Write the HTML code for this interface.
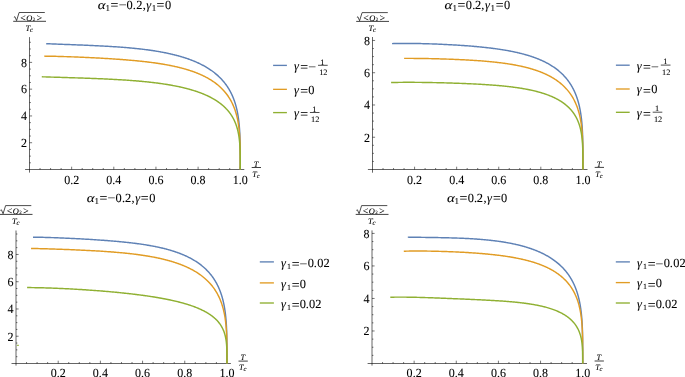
<!DOCTYPE html>
<html><head><meta charset="utf-8"><style>
html,body{margin:0;padding:0;background:#fff;}
body{width:685px;height:377px;overflow:hidden;}
svg{display:block;will-change:transform;}
text{font-family:"Liberation Serif",serif;text-rendering:geometricPrecision;fill:#000;stroke:#000;stroke-width:0.08px;}
</style></head><body>
<svg width="685" height="377" viewBox="0 0 685 377">
<rect width="685" height="377" fill="#fff"/>
<text transform="translate(102,8.6) scale(1.2,1)" x="-3.54" y="0" font-size="12.4" font-style="italic">α</text>
<text x="105.62" y="10.5" font-size="9" stroke-width="0.22">1</text>
<text transform="translate(114.4,9) scale(1.12,1)" x="-3.5" y="0" font-size="12.4">=</text>
<text transform="translate(122.6,9) scale(1.12,1)" x="-3.5" y="0" font-size="12.4">−</text>
<text x="126.5" y="8.6" font-size="12.4">0</text>
<text x="132.75" y="8.6" font-size="12.4">.</text>
<text x="136.32" y="8.6" font-size="12.4">2</text>
<text x="142.7" y="8.6" font-size="12.4">,</text>
<text x="146.31" y="8.6" font-size="12.4" font-style="italic">γ</text>
<text x="151.67" y="10.5" font-size="9" stroke-width="0.22">1</text>
<text transform="translate(160.5,9) scale(1.12,1)" x="-3.5" y="0" font-size="12.4">=</text>
<text x="164.95" y="8.6" font-size="12.4">0</text>
<path d="M13.2,21.3 H46" stroke="#000" stroke-width="0.75"/>
<path d="M13.9,17.3 L14.9,16.7 L16.6,20.6 L19.1,12.5 H44.8" stroke="#000" stroke-width="0.7" fill="none" stroke-linejoin="bevel"/>
<text x="20.14" y="21.3" font-size="9.6" stroke-width="0.22">&lt;</text>
<text x="26.25" y="20.6" font-size="8.4" font-style="italic" stroke-width="0.22">O</text>
<text x="32.63" y="20.9" font-size="5" stroke-width="0.22">2</text>
<text x="36.73" y="21.3" font-size="9.6" stroke-width="0.22">&gt;</text>
<text x="25.61" y="30.7" font-size="8.5" font-style="italic" stroke-width="0.22">T</text>
<text x="29.92" y="31.9" font-size="6.8" font-style="italic" stroke-width="0.22">c</text>
<path d="M25.1,169.5 H244.3" stroke="#000" stroke-opacity="0.6" stroke-width="1" fill="none"/>
<path d="M29.5,37.1 V172.6" stroke="#000" stroke-opacity="0.6" stroke-width="1" fill="none"/>
<path d="M40.04,169.5 v-1.5 M50.58,169.5 v-1.5 M61.11,169.5 v-1.5 M71.65,169.5 v-2.8 M82.19,169.5 v-1.5 M92.72,169.5 v-1.5 M103.26,169.5 v-1.5 M113.8,169.5 v-2.8 M124.34,169.5 v-1.5 M134.88,169.5 v-1.5 M145.41,169.5 v-1.5 M155.95,169.5 v-2.8 M166.49,169.5 v-1.5 M177.03,169.5 v-1.5 M187.56,169.5 v-1.5 M198.1,169.5 v-2.8 M208.64,169.5 v-1.5 M219.18,169.5 v-1.5 M229.71,169.5 v-1.5 M240.25,169.5 v-2.8 M29.5,162.81 h1.4 M29.5,156.11 h1.4 M29.5,149.41 h1.4 M29.5,142.72 h2.6 M29.5,136.03 h1.4 M29.5,129.33 h1.4 M29.5,122.63 h1.4 M29.5,115.94 h2.6 M29.5,109.25 h1.4 M29.5,102.55 h1.4 M29.5,95.85 h1.4 M29.5,89.16 h2.6 M29.5,82.47 h1.4 M29.5,75.77 h1.4 M29.5,69.07 h1.4 M29.5,62.38 h2.6 M29.5,55.69 h1.4 M29.5,48.99 h1.4 M29.5,42.29 h1.4" stroke="#000" stroke-opacity="0.6" stroke-width="0.9" fill="none"/>
<text transform="translate(27.1,147.02) scale(0.97,1)" font-size="12.4" text-anchor="end">2</text>
<text transform="translate(27.1,120.24) scale(0.97,1)" font-size="12.4" text-anchor="end">4</text>
<text transform="translate(27.1,93.46) scale(0.97,1)" font-size="12.4" text-anchor="end">6</text>
<text transform="translate(27.1,66.68) scale(0.97,1)" font-size="12.4" text-anchor="end">8</text>
<text transform="translate(71.65,183.9) scale(0.97,1)" font-size="12.4" text-anchor="middle">0.2</text>
<text transform="translate(113.8,183.9) scale(0.97,1)" font-size="12.4" text-anchor="middle">0.4</text>
<text transform="translate(155.95,183.9) scale(0.97,1)" font-size="12.4" text-anchor="middle">0.6</text>
<text transform="translate(198.1,183.9) scale(0.97,1)" font-size="12.4" text-anchor="middle">0.8</text>
<text transform="translate(240.25,183.9) scale(0.97,1)" font-size="12.4" text-anchor="middle">1.0</text>
<path d="M251.7,167.5 h9.3" stroke="#000" stroke-width="0.75"/>
<text x="253.71" y="166.6" font-size="8.2" font-style="italic" stroke-width="0.22">T</text>
<text x="252.31" y="176.6" font-size="8.2" font-style="italic" stroke-width="0.22">T</text>
<text x="256.72" y="177.8" font-size="6.6" font-style="italic" stroke-width="0.22">c</text>
<path d="M46.2,43.71 L47.81,43.77 L49.42,43.83 L51.01,43.89 L52.59,43.95 L54.16,44.01 L55.73,44.07 L57.28,44.13 L58.82,44.18 L60.35,44.24 L61.87,44.3 L63.38,44.36 L64.87,44.41 L66.36,44.47 L67.84,44.52 L69.31,44.58 L70.77,44.63 L72.22,44.69 L73.66,44.75 L75.08,44.8 L76.5,44.86 L77.91,44.91 L79.31,44.97 L80.7,45.02 L82.08,45.08 L83.45,45.14 L84.81,45.19 L86.17,45.25 L87.51,45.31 L88.84,45.36 L90.16,45.42 L91.48,45.48 L92.78,45.54 L94.08,45.6 L95.37,45.66 L96.64,45.72 L97.91,45.79 L99.17,45.85 L100.42,45.91 L101.66,45.98 L102.9,46.04 L104.12,46.11 L105.34,46.18 L106.54,46.24 L107.74,46.31 L108.93,46.38 L110.11,46.45 L111.28,46.53 L112.45,46.6 L113.6,46.67 L114.75,46.75 L115.89,46.82 L117.02,46.9 L118.14,46.98 L119.26,47.06 L120.36,47.14 L121.46,47.22 L122.55,47.31 L123.63,47.39 L124.71,47.48 L125.77,47.57 L126.83,47.65 L127.88,47.74 L128.92,47.84 L129.96,47.93 L130.98,48.02 L132,48.12 L133.01,48.22 L134.02,48.31 L135.02,48.41 L136,48.51 L136.99,48.62 L137.96,48.72 L138.93,48.83 L139.89,48.93 L140.84,49.04 L141.78,49.15 L142.72,49.26 L143.65,49.38 L144.58,49.49 L145.49,49.61 L146.4,49.72 L147.3,49.84 L148.2,49.96 L149.09,50.08 L149.97,50.21 L150.84,50.33 L151.71,50.46 L152.57,50.58 L153.43,50.71 L154.28,50.84 L155.12,50.98 L155.95,51.11 L156.78,51.25 L157.6,51.38 L158.42,51.52 L159.22,51.66 L160.03,51.8 L160.82,51.94 L161.61,52.09 L162.4,52.23 L163.17,52.38 L163.94,52.53 L164.71,52.68 L165.47,52.83 L166.22,52.98 L166.97,53.14 L167.71,53.29 L168.44,53.45 L169.17,53.61 L169.89,53.77 L170.61,53.93 L171.32,54.09 L172.02,54.26 L172.72,54.43 L173.41,54.59 L174.1,54.76 L174.78,54.93 L175.46,55.1 L176.13,55.28 L176.8,55.45 L177.46,55.63 L178.11,55.8 L178.76,55.98 L179.4,56.16 L180.04,56.34 L180.67,56.52 L181.3,56.71 L181.92,56.89 L182.54,57.08 L183.15,57.27 L183.76,57.45 L184.36,57.64 L184.95,57.84 L185.54,58.03 L186.13,58.22 L186.71,58.42 L187.28,58.61 L187.86,58.81 L188.42,59.01 L188.98,59.21 L189.54,59.41 L190.09,59.61 L190.64,59.82 L191.18,60.02 L191.71,60.23 L192.25,60.43 L192.77,60.64 L193.3,60.85 L193.82,61.06 L194.33,61.27 L194.84,61.49 L195.34,61.7 L195.84,61.91 L196.34,62.13 L196.83,62.35 L197.32,62.56 L197.8,62.78 L198.28,63 L198.75,63.22 L199.22,63.45 L199.69,63.67 L200.15,63.89 L200.6,64.12 L201.06,64.34 L201.5,64.57 L201.95,64.8 L202.39,65.03 L202.82,65.26 L203.26,65.49 L203.68,65.72 L204.11,65.95 L204.53,66.19 L204.95,66.42 L205.36,66.66 L205.77,66.89 L206.17,67.13 L206.57,67.37 L206.97,67.61 L207.36,67.85 L207.75,68.09 L208.14,68.33 L208.52,68.57 L208.9,68.81 L209.65,69.3 L210.38,69.79 L211.1,70.28 L211.8,70.78 L212.49,71.28 L213.17,71.78 L213.83,72.29 L214.48,72.8 L215.12,73.31 L215.74,73.82 L216.36,74.33 L216.96,74.85 L217.55,75.37 L218.12,75.89 L218.69,76.42 L219.24,76.94 L219.78,77.47 L220.31,78 L220.83,78.54 L221.34,79.07 L221.84,79.61 L222.32,80.14 L222.8,80.68 L223.27,81.22 L223.72,81.77 L224.17,82.31 L224.61,82.86 L225.03,83.4 L225.45,83.95 L225.86,84.5 L226.26,85.05 L226.65,85.6 L227.03,86.16 L227.41,86.71 L227.77,87.26 L228.13,87.82 L228.48,88.38 L228.82,88.93 L229.15,89.49 L229.47,90.05 L229.79,90.61 L230.1,91.17 L230.4,91.73 L230.7,92.29 L230.98,92.86 L231.27,93.42 L231.54,93.98 L231.81,94.55 L232.07,95.11 L232.32,95.67 L232.57,96.24 L232.81,96.8 L233.05,97.37 L233.28,97.93 L233.5,98.5 L233.72,99.06 L233.93,99.63 L234.14,100.19 L234.34,100.76 L234.53,101.32 L234.72,101.89 L234.91,102.45 L235.09,103.02 L235.26,103.58 L235.43,104.15 L235.6,104.71 L235.76,105.28 L235.92,105.84 L236.07,106.4 L236.22,106.97 L236.36,107.53 L236.5,108.09 L236.64,108.65 L236.77,109.21 L236.9,109.77 L237.02,110.33 L237.14,110.89 L237.26,111.45 L237.37,112.01 L237.48,112.57 L237.59,113.12 L237.69,113.68 L237.79,114.23 L237.89,114.79 L237.98,115.34 L238.07,115.9 L238.16,116.45 L238.25,117 L238.33,117.55 L238.41,118.1 L238.48,118.65 L238.56,119.19 L238.63,119.74 L238.7,120.29 L238.77,120.83 L238.83,121.38 L238.89,121.92 L238.95,122.46 L239.01,123 L239.07,123.54 L239.12,124.08 L239.17,124.61 L239.22,125.15 L239.27,125.69 L239.32,126.22 L239.36,126.75 L239.4,127.28 L239.44,127.81 L239.48,128.34 L239.52,128.87 L239.56,129.39 L239.59,129.92 L239.63,130.44 L239.66,130.96 L239.69,131.48 L239.72,132 L239.75,132.52 L239.77,133.04 L239.8,133.55 L239.83,134.06 L239.85,134.58 L239.87,135.09 L239.89,135.59 L239.91,136.1 L239.93,136.61 L239.95,137.11 L239.97,137.61 L239.99,138.11 L240,138.61 L240.02,139.11 L240.03,139.61 L240.05,140.1 L240.06,140.59 L240.07,141.08 L240.08,141.57 L240.09,142.06 L240.1,142.54 L240.11,143.03 L240.12,143.51 L240.13,143.99 L240.14,144.46 L240.15,144.94 L240.16,145.41 L240.16,145.89 L240.17,146.35 L240.18,146.82 L240.18,147.29 L240.19,147.75 L240.19,148.21 L240.2,148.67 L240.2,149.13 L240.21,149.58 L240.21,150.04 L240.21,150.49 L240.22,150.94 L240.22,151.6 L240.22,152.27 L240.23,152.92 L240.23,153.57 L240.23,154.22 L240.24,154.86 L240.24,155.49 L240.24,156.12 L240.24,156.74 L240.24,157.36 L240.24,157.97 L240.25,158.57 L240.25,159.16 L240.25,159.75 L240.25,160.33 L240.25,160.9 L240.25,161.46 L240.25,162.02 L240.25,162.57 L240.25,163.1 L240.25,163.63 L240.25,164.15 L240.25,164.65 L240.25,165.15 L240.25,165.63 L240.25,166.1 L240.25,166.56 L240.25,167.15 L240.25,167.7 L240.25,168.22 L240.25,168.7 L240.25,169.22 L240.25,169.5" stroke="#5e81b5" stroke-width="1.45" fill="none"/>
<path d="M44.2,56.15 L45.83,56.17 L47.45,56.19 L49.06,56.22 L50.66,56.24 L52.25,56.27 L53.82,56.31 L55.39,56.34 L56.95,56.38 L58.49,56.42 L60.03,56.46 L61.55,56.51 L63.07,56.55 L64.57,56.6 L66.06,56.64 L67.55,56.69 L69.02,56.74 L70.49,56.79 L71.94,56.85 L73.38,56.9 L74.82,56.96 L76.24,57.01 L77.65,57.07 L79.06,57.13 L80.45,57.18 L81.84,57.24 L83.21,57.3 L84.58,57.36 L85.93,57.43 L87.28,57.49 L88.62,57.55 L89.94,57.61 L91.26,57.68 L92.57,57.74 L93.87,57.81 L95.16,57.88 L96.44,57.94 L97.72,58.01 L98.98,58.08 L100.24,58.15 L101.48,58.22 L102.72,58.29 L103.95,58.36 L105.17,58.43 L106.38,58.5 L107.58,58.57 L108.77,58.65 L109.95,58.72 L111.13,58.8 L112.3,58.87 L113.46,58.95 L114.61,59.03 L115.75,59.1 L116.88,59.18 L118.01,59.26 L119.13,59.34 L120.24,59.42 L121.34,59.5 L122.43,59.59 L123.51,59.67 L124.59,59.75 L125.66,59.84 L126.72,59.92 L127.77,60.01 L128.82,60.1 L129.86,60.19 L130.89,60.28 L131.91,60.37 L132.92,60.46 L133.93,60.55 L134.93,60.64 L135.92,60.74 L136.91,60.83 L137.88,60.93 L138.85,61.03 L139.81,61.12 L140.77,61.22 L141.72,61.32 L142.66,61.43 L143.59,61.53 L144.52,61.63 L145.43,61.74 L146.35,61.84 L147.25,61.95 L148.15,62.06 L149.04,62.17 L149.92,62.28 L150.8,62.39 L151.67,62.5 L152.53,62.61 L153.39,62.73 L154.24,62.84 L155.08,62.96 L155.92,63.08 L156.75,63.2 L157.57,63.32 L158.39,63.44 L159.2,63.57 L160,63.69 L160.8,63.82 L161.59,63.94 L162.38,64.07 L163.16,64.2 L163.93,64.33 L164.7,64.46 L165.46,64.6 L166.21,64.73 L166.96,64.87 L167.7,65 L168.44,65.14 L169.17,65.28 L169.89,65.42 L170.61,65.56 L171.32,65.71 L172.03,65.85 L172.73,66 L173.42,66.14 L174.11,66.29 L174.79,66.44 L175.47,66.59 L176.14,66.75 L176.81,66.9 L177.47,67.05 L178.12,67.21 L178.77,67.37 L179.42,67.52 L180.06,67.68 L180.69,67.84 L181.32,68.01 L181.94,68.17 L182.56,68.33 L183.17,68.5 L183.78,68.66 L184.38,68.83 L184.98,69 L185.57,69.17 L186.16,69.34 L186.74,69.52 L187.32,69.69 L187.89,69.86 L188.45,70.04 L189.02,70.22 L189.57,70.4 L190.12,70.58 L190.67,70.76 L191.21,70.94 L191.75,71.12 L192.28,71.3 L192.81,71.49 L193.34,71.68 L193.86,71.86 L194.37,72.05 L194.88,72.24 L195.39,72.43 L195.89,72.62 L196.38,72.82 L196.87,73.01 L197.36,73.21 L197.84,73.4 L198.32,73.6 L198.8,73.8 L199.27,74 L199.73,74.2 L200.19,74.4 L200.65,74.6 L201.1,74.8 L201.55,75 L202,75.21 L202.44,75.42 L202.88,75.62 L203.31,75.83 L203.74,76.04 L204.16,76.25 L204.58,76.46 L205,76.67 L205.41,76.88 L205.82,77.1 L206.23,77.31 L206.63,77.52 L207.02,77.74 L207.42,77.96 L208.19,78.39 L208.96,78.83 L209.7,79.27 L210.43,79.72 L211.15,80.17 L211.86,80.62 L212.55,81.08 L213.23,81.53 L213.89,81.99 L214.54,82.46 L215.18,82.92 L215.8,83.39 L216.42,83.86 L217.02,84.34 L217.6,84.81 L218.18,85.29 L218.75,85.77 L219.3,86.25 L219.84,86.74 L220.37,87.23 L220.89,87.72 L221.4,88.21 L221.89,88.7 L222.38,89.19 L222.86,89.69 L223.32,90.19 L223.78,90.69 L224.23,91.19 L224.66,91.69 L225.09,92.2 L225.51,92.7 L225.92,93.21 L226.32,93.72 L226.71,94.23 L227.09,94.74 L227.46,95.25 L227.82,95.77 L228.18,96.28 L228.53,96.79 L228.87,97.31 L229.2,97.83 L229.52,98.34 L229.84,98.86 L230.15,99.38 L230.45,99.9 L230.74,100.42 L231.03,100.94 L231.31,101.46 L231.59,101.99 L231.85,102.51 L232.11,103.03 L232.37,103.55 L232.61,104.08 L232.85,104.6 L233.09,105.12 L233.32,105.65 L233.54,106.17 L233.76,106.69 L233.97,107.22 L234.17,107.74 L234.37,108.27 L234.57,108.79 L234.76,109.31 L234.94,109.84 L235.12,110.36 L235.3,110.88 L235.47,111.41 L235.64,111.93 L235.8,112.45 L235.95,112.97 L236.1,113.49 L236.25,114.01 L236.39,114.53 L236.53,115.05 L236.67,115.57 L236.8,116.09 L236.93,116.61 L237.05,117.13 L237.17,117.64 L237.29,118.16 L237.4,118.67 L237.51,119.19 L237.61,119.7 L237.72,120.22 L237.82,120.73 L237.91,121.24 L238.01,121.75 L238.1,122.26 L238.18,122.77 L238.27,123.28 L238.35,123.78 L238.43,124.29 L238.5,124.79 L238.58,125.3 L238.65,125.8 L238.72,126.3 L238.78,126.8 L238.85,127.3 L238.91,127.8 L238.97,128.29 L239.03,128.79 L239.08,129.28 L239.14,129.78 L239.19,130.27 L239.24,130.76 L239.28,131.25 L239.33,131.74 L239.37,132.22 L239.42,132.71 L239.46,133.19 L239.5,133.67 L239.53,134.16 L239.57,134.64 L239.6,135.11 L239.64,135.59 L239.67,136.06 L239.7,136.54 L239.73,137.01 L239.76,137.48 L239.78,137.95 L239.81,138.42 L239.83,138.88 L239.86,139.34 L239.88,139.81 L239.9,140.27 L239.92,140.73 L239.94,141.18 L239.96,141.64 L239.97,142.09 L239.99,142.54 L240.01,142.99 L240.02,143.44 L240.04,144.11 L240.06,144.77 L240.08,145.43 L240.1,146.09 L240.11,146.74 L240.13,147.39 L240.14,148.03 L240.15,148.67 L240.16,149.3 L240.17,149.93 L240.18,150.55 L240.19,151.17 L240.2,151.78 L240.2,152.39 L240.21,152.99 L240.21,153.59 L240.22,154.18 L240.22,154.76 L240.23,155.34 L240.23,155.92 L240.23,156.49 L240.24,157.05 L240.24,157.61 L240.24,158.15 L240.24,158.7 L240.24,159.23 L240.24,159.76 L240.25,160.29 L240.25,160.8 L240.25,161.31 L240.25,161.81 L240.25,162.3 L240.25,162.78 L240.25,163.26 L240.25,163.72 L240.25,164.18 L240.25,164.63 L240.25,165.21 L240.25,165.77 L240.25,166.31 L240.25,166.83 L240.25,167.33 L240.25,167.8 L240.25,168.34 L240.25,168.82 L240.25,169.3 L240.25,169.5" stroke="#e19c24" stroke-width="1.45" fill="none"/>
<path d="M41.8,76.8 L43.45,76.85 L45.09,76.9 L46.72,76.95 L48.34,77 L49.95,77.05 L51.54,77.1 L53.13,77.15 L54.7,77.19 L56.27,77.24 L57.82,77.29 L59.36,77.34 L60.9,77.38 L62.42,77.43 L63.93,77.48 L65.43,77.52 L66.93,77.57 L68.41,77.62 L69.88,77.66 L71.34,77.71 L72.79,77.75 L74.23,77.8 L75.66,77.85 L77.08,77.89 L78.5,77.94 L79.9,77.99 L81.29,78.03 L82.67,78.08 L84.04,78.13 L85.41,78.18 L86.76,78.23 L88.1,78.28 L89.44,78.32 L90.76,78.37 L92.08,78.42 L93.39,78.47 L94.68,78.53 L95.97,78.58 L97.25,78.63 L98.52,78.68 L99.78,78.73 L101.03,78.79 L102.28,78.84 L103.51,78.9 L104.74,78.95 L105.95,79.01 L107.16,79.06 L108.36,79.12 L109.55,79.18 L110.73,79.24 L111.91,79.3 L113.07,79.36 L114.23,79.42 L115.37,79.48 L116.51,79.55 L117.64,79.61 L118.77,79.68 L119.88,79.74 L120.99,79.81 L122.09,79.87 L123.18,79.94 L124.26,80.01 L125.33,80.08 L126.4,80.15 L127.46,80.23 L128.51,80.3 L129.55,80.37 L130.58,80.45 L131.61,80.53 L132.63,80.6 L133.64,80.68 L134.64,80.76 L135.64,80.84 L136.63,80.92 L137.61,81 L138.58,81.09 L139.55,81.17 L140.51,81.26 L141.46,81.34 L142.41,81.43 L143.34,81.52 L144.27,81.61 L145.2,81.7 L146.11,81.79 L147.02,81.89 L147.92,81.98 L148.82,82.08 L149.7,82.17 L150.59,82.27 L151.46,82.37 L152.33,82.47 L153.19,82.57 L154.04,82.67 L154.89,82.78 L155.73,82.88 L156.56,82.99 L157.39,83.09 L158.21,83.2 L159.02,83.31 L159.83,83.42 L160.63,83.53 L161.43,83.64 L162.21,83.76 L163,83.87 L163.77,83.99 L164.54,84.1 L165.3,84.22 L166.06,84.34 L166.81,84.46 L167.56,84.58 L168.29,84.7 L169.03,84.83 L169.75,84.95 L170.48,85.07 L171.19,85.2 L171.9,85.33 L172.6,85.46 L173.3,85.59 L173.99,85.72 L174.68,85.85 L175.36,85.98 L176.03,86.11 L176.7,86.25 L177.36,86.39 L178.02,86.52 L178.67,86.66 L179.32,86.8 L179.96,86.94 L180.6,87.08 L181.23,87.22 L181.85,87.36 L182.47,87.51 L183.09,87.65 L183.7,87.8 L184.3,87.94 L184.9,88.09 L185.5,88.24 L186.08,88.39 L186.67,88.54 L187.25,88.69 L187.82,88.84 L188.39,89 L188.95,89.15 L189.51,89.3 L190.06,89.46 L190.61,89.62 L191.16,89.77 L191.7,89.93 L192.23,90.09 L192.76,90.25 L193.29,90.41 L193.81,90.57 L194.32,90.74 L194.84,90.9 L195.34,91.06 L195.85,91.23 L196.34,91.39 L196.84,91.56 L197.33,91.73 L197.81,91.9 L198.29,92.07 L198.77,92.23 L199.24,92.41 L199.7,92.58 L200.17,92.75 L200.63,92.92 L201.08,93.09 L201.53,93.27 L201.98,93.44 L202.42,93.62 L202.86,93.79 L203.29,93.97 L203.72,94.15 L204.15,94.33 L204.57,94.51 L204.98,94.69 L205.4,94.87 L205.81,95.05 L206.62,95.41 L207.41,95.78 L208.19,96.15 L208.95,96.52 L209.7,96.89 L210.43,97.26 L211.16,97.64 L211.86,98.02 L212.55,98.4 L213.23,98.79 L213.9,99.17 L214.55,99.56 L215.19,99.95 L215.82,100.34 L216.43,100.73 L217.03,101.13 L217.62,101.53 L218.2,101.92 L218.76,102.32 L219.32,102.72 L219.86,103.13 L220.39,103.53 L220.91,103.94 L221.42,104.34 L221.92,104.75 L222.4,105.16 L222.88,105.57 L223.35,105.98 L223.81,106.39 L224.25,106.81 L224.69,107.22 L225.12,107.63 L225.53,108.05 L225.94,108.47 L226.34,108.88 L226.73,109.3 L227.12,109.72 L227.49,110.14 L227.85,110.56 L228.21,110.98 L228.56,111.4 L228.9,111.82 L229.23,112.25 L229.55,112.67 L229.87,113.09 L230.18,113.52 L230.48,113.94 L230.77,114.36 L231.06,114.79 L231.34,115.21 L231.61,115.64 L231.88,116.06 L232.14,116.49 L232.39,116.91 L232.64,117.34 L232.88,117.76 L233.12,118.19 L233.35,118.61 L233.57,119.04 L233.79,119.46 L234,119.88 L234.2,120.31 L234.4,120.73 L234.6,121.16 L234.79,121.58 L234.97,122 L235.15,122.43 L235.33,122.85 L235.5,123.27 L235.66,123.69 L235.82,124.12 L235.98,124.54 L236.2,125.17 L236.42,125.8 L236.63,126.43 L236.82,127.05 L237.01,127.68 L237.19,128.3 L237.36,128.93 L237.53,129.55 L237.69,130.17 L237.84,130.79 L237.98,131.4 L238.11,132.02 L238.24,132.63 L238.37,133.24 L238.48,133.85 L238.59,134.46 L238.7,135.06 L238.8,135.66 L238.89,136.26 L238.98,136.86 L239.07,137.46 L239.15,138.05 L239.22,138.64 L239.3,139.23 L239.36,139.81 L239.43,140.4 L239.49,140.98 L239.54,141.55 L239.6,142.13 L239.65,142.7 L239.69,143.27 L239.74,143.84 L239.78,144.4 L239.82,144.96 L239.85,145.52 L239.88,146.07 L239.92,146.62 L239.94,147.17 L239.97,147.72 L240,148.26 L240.02,148.8 L240.04,149.33 L240.06,149.86 L240.08,150.39 L240.1,150.91 L240.11,151.43 L240.13,151.95 L240.14,152.46 L240.15,152.97 L240.16,153.47 L240.17,153.98 L240.18,154.47 L240.19,154.97 L240.2,155.45 L240.2,155.94 L240.21,156.42 L240.21,156.89 L240.22,157.37 L240.22,157.83 L240.23,158.29 L240.23,158.75 L240.23,159.2 L240.24,159.65 L240.24,160.24 L240.24,160.82 L240.24,161.39 L240.24,161.95 L240.25,162.5 L240.25,163.04 L240.25,163.56 L240.25,164.08 L240.25,164.58 L240.25,165.07 L240.25,165.55 L240.25,166.01 L240.25,166.46 L240.25,167 L240.25,167.51 L240.25,167.99 L240.25,168.51 L240.25,168.97 L240.25,169.44 L240.25,169.5" stroke="#8fb032" stroke-width="1.45" fill="none"/>
<path d="M273.1,65.4 h13.8" stroke="#5e81b5" stroke-width="1.35"/>
<path d="M273.1,89.35 h13.8" stroke="#e19c24" stroke-width="1.35"/>
<path d="M273.1,112.6 h13.8" stroke="#8fb032" stroke-width="1.35"/>
<text x="293.91" y="69.7" font-size="12.4" font-style="italic">γ</text>
<text transform="translate(304.15,71) scale(1.12,1)" x="-3.5" y="0" font-size="12.4">=</text>
<text transform="translate(312.05,71) scale(1.12,1)" x="-3.5" y="0" font-size="12.4">−</text>
<path d="M318,65.3 h9.7" stroke="#000" stroke-width="0.7"/>
<text x="320.36" y="64.55" font-size="8.3" stroke-width="0.22">1</text>
<text x="319.26" y="74.7" font-size="8.3" stroke-width="0.22">1</text>
<text x="323.37" y="74.7" font-size="8.3" stroke-width="0.22">2</text>
<text x="294.01" y="93.65" font-size="12.4" font-style="italic">γ</text>
<text transform="translate(304.15,94.95) scale(1.12,1)" x="-3.5" y="0" font-size="12.4">=</text>
<text x="308.35" y="93.65" font-size="12.4">0</text>
<text x="293.91" y="116.9" font-size="12.4" font-style="italic">γ</text>
<text transform="translate(304.15,118.2) scale(1.12,1)" x="-3.5" y="0" font-size="12.4">=</text>
<path d="M309.9,112.5 h9.6" stroke="#000" stroke-width="0.7"/>
<text x="312.31" y="111.75" font-size="8.3" stroke-width="0.22">1</text>
<text x="311.11" y="121.9" font-size="8.3" stroke-width="0.22">1</text>
<text x="315.22" y="121.9" font-size="8.3" stroke-width="0.22">2</text>
<text transform="translate(448.65,8.6) scale(1.2,1)" x="-3.54" y="0" font-size="12.4" font-style="italic">α</text>
<text x="452.57" y="10.5" font-size="9" stroke-width="0.22">1</text>
<text transform="translate(461.4,9) scale(1.12,1)" x="-3.5" y="0" font-size="12.4">=</text>
<text x="465.75" y="8.6" font-size="12.4">0</text>
<text x="472.15" y="8.6" font-size="12.4">.</text>
<text x="474.97" y="8.6" font-size="12.4">2</text>
<text x="481.3" y="8.6" font-size="12.4">,</text>
<text x="485.01" y="8.6" font-size="12.4" font-style="italic">γ</text>
<text x="490.62" y="10.5" font-size="9" stroke-width="0.22">1</text>
<text transform="translate(499.6,9) scale(1.12,1)" x="-3.5" y="0" font-size="12.4">=</text>
<text x="503.9" y="8.6" font-size="12.4">0</text>
<path d="M356.2,21.4 H389" stroke="#000" stroke-width="0.75"/>
<path d="M356.9,17.4 L357.9,16.8 L359.6,20.7 L362.1,12.6 H387.8" stroke="#000" stroke-width="0.7" fill="none" stroke-linejoin="bevel"/>
<text x="363.14" y="21.4" font-size="9.6" stroke-width="0.22">&lt;</text>
<text x="369.25" y="20.7" font-size="8.4" font-style="italic" stroke-width="0.22">O</text>
<text x="375.63" y="21" font-size="5" stroke-width="0.22">2</text>
<text x="379.73" y="21.4" font-size="9.6" stroke-width="0.22">&gt;</text>
<text x="368.61" y="30.8" font-size="8.5" font-style="italic" stroke-width="0.22">T</text>
<text x="372.92" y="32" font-size="6.8" font-style="italic" stroke-width="0.22">c</text>
<path d="M367.9,169.5 H587.5" stroke="#000" stroke-opacity="0.6" stroke-width="1" fill="none"/>
<path d="M372.5,37 V172.7" stroke="#000" stroke-opacity="0.6" stroke-width="1" fill="none"/>
<path d="M383.02,169.5 v-1.5 M393.54,169.5 v-1.5 M404.06,169.5 v-1.5 M414.58,169.5 v-2.8 M425.1,169.5 v-1.5 M435.62,169.5 v-1.5 M446.14,169.5 v-1.5 M456.66,169.5 v-2.8 M467.18,169.5 v-1.5 M477.7,169.5 v-1.5 M488.22,169.5 v-1.5 M498.74,169.5 v-2.8 M509.26,169.5 v-1.5 M519.78,169.5 v-1.5 M530.3,169.5 v-1.5 M540.82,169.5 v-2.8 M551.34,169.5 v-1.5 M561.86,169.5 v-1.5 M572.38,169.5 v-1.5 M582.9,169.5 v-2.8 M372.5,161.44 h1.4 M372.5,153.37 h1.4 M372.5,145.31 h1.4 M372.5,137.24 h2.6 M372.5,129.18 h1.4 M372.5,121.11 h1.4 M372.5,113.05 h1.4 M372.5,104.98 h2.6 M372.5,96.92 h1.4 M372.5,88.85 h1.4 M372.5,80.79 h1.4 M372.5,72.72 h2.6 M372.5,64.66 h1.4 M372.5,56.59 h1.4 M372.5,48.53 h1.4 M372.5,40.46 h2.6" stroke="#000" stroke-opacity="0.6" stroke-width="0.9" fill="none"/>
<text transform="translate(370.1,141.54) scale(0.97,1)" font-size="12.4" text-anchor="end">2</text>
<text transform="translate(370.1,109.28) scale(0.97,1)" font-size="12.4" text-anchor="end">4</text>
<text transform="translate(370.1,77.02) scale(0.97,1)" font-size="12.4" text-anchor="end">6</text>
<text transform="translate(370.1,44.76) scale(0.97,1)" font-size="12.4" text-anchor="end">8</text>
<text transform="translate(414.58,183.9) scale(0.97,1)" font-size="12.4" text-anchor="middle">0.2</text>
<text transform="translate(456.66,183.9) scale(0.97,1)" font-size="12.4" text-anchor="middle">0.4</text>
<text transform="translate(498.74,183.9) scale(0.97,1)" font-size="12.4" text-anchor="middle">0.6</text>
<text transform="translate(540.82,183.9) scale(0.97,1)" font-size="12.4" text-anchor="middle">0.8</text>
<text transform="translate(582.9,183.9) scale(0.97,1)" font-size="12.4" text-anchor="middle">1.0</text>
<path d="M594.7,167.4 h9.3" stroke="#000" stroke-width="0.75"/>
<text x="596.71" y="166.5" font-size="8.2" font-style="italic" stroke-width="0.22">T</text>
<text x="595.31" y="176.5" font-size="8.2" font-style="italic" stroke-width="0.22">T</text>
<text x="599.72" y="177.7" font-size="6.6" font-style="italic" stroke-width="0.22">c</text>
<path d="M392.05,43.63 L393.64,43.59 L395.21,43.55 L396.78,43.52 L398.34,43.5 L399.88,43.48 L401.42,43.46 L402.94,43.45 L404.46,43.44 L405.96,43.44 L407.46,43.44 L408.94,43.45 L410.42,43.45 L411.88,43.47 L413.33,43.48 L414.78,43.5 L416.21,43.52 L417.64,43.54 L419.05,43.57 L420.46,43.59 L421.85,43.62 L423.24,43.66 L424.62,43.69 L425.98,43.73 L427.34,43.77 L428.69,43.81 L430.03,43.85 L431.36,43.89 L432.68,43.94 L433.99,43.99 L435.29,44.04 L436.58,44.09 L437.86,44.14 L439.14,44.19 L440.4,44.24 L441.66,44.3 L442.91,44.36 L444.15,44.42 L445.38,44.48 L446.6,44.54 L447.81,44.6 L449.02,44.66 L450.21,44.73 L451.4,44.79 L452.58,44.86 L453.75,44.92 L454.91,44.99 L456.06,45.06 L457.21,45.13 L458.34,45.21 L459.47,45.28 L460.59,45.35 L461.7,45.43 L462.81,45.5 L463.9,45.58 L464.99,45.66 L466.07,45.74 L467.14,45.82 L468.21,45.9 L469.26,45.98 L470.31,46.07 L471.35,46.15 L472.38,46.24 L473.41,46.32 L474.43,46.41 L475.44,46.5 L476.44,46.59 L477.43,46.68 L478.42,46.77 L479.4,46.87 L480.37,46.96 L481.34,47.06 L482.3,47.16 L483.25,47.25 L484.19,47.35 L485.13,47.45 L486.06,47.56 L486.98,47.66 L487.89,47.76 L488.8,47.87 L489.7,47.98 L490.6,48.09 L491.49,48.19 L492.37,48.31 L493.24,48.42 L494.11,48.53 L494.97,48.65 L495.82,48.76 L496.67,48.88 L497.51,49 L498.34,49.12 L499.17,49.24 L499.99,49.36 L500.81,49.48 L501.61,49.61 L502.42,49.74 L503.21,49.86 L504,49.99 L504.78,50.12 L505.56,50.25 L506.33,50.39 L507.09,50.52 L507.85,50.66 L508.6,50.8 L509.35,50.93 L510.09,51.07 L510.82,51.22 L511.55,51.36 L512.27,51.5 L512.99,51.65 L513.7,51.8 L514.41,51.94 L515.1,52.09 L515.8,52.24 L516.48,52.4 L517.17,52.55 L517.84,52.71 L518.51,52.86 L519.18,53.02 L519.84,53.18 L520.49,53.34 L521.14,53.5 L521.78,53.67 L522.42,53.83 L523.06,54 L523.68,54.17 L524.3,54.33 L524.92,54.51 L525.53,54.68 L526.14,54.85 L526.74,55.02 L527.34,55.2 L527.93,55.38 L528.51,55.56 L529.09,55.74 L529.67,55.92 L530.24,56.1 L530.81,56.28 L531.37,56.47 L531.93,56.65 L532.48,56.84 L533.02,57.03 L533.57,57.22 L534.1,57.41 L534.64,57.6 L535.16,57.8 L535.69,57.99 L536.21,58.19 L536.72,58.39 L537.23,58.59 L537.74,58.79 L538.24,58.99 L538.73,59.19 L539.23,59.39 L539.71,59.6 L540.2,59.81 L540.67,60.01 L541.15,60.22 L541.62,60.43 L542.08,60.64 L542.55,60.85 L543,61.07 L543.46,61.28 L543.91,61.5 L544.35,61.71 L544.79,61.93 L545.23,62.15 L545.66,62.37 L546.09,62.59 L546.52,62.81 L546.94,63.04 L547.36,63.26 L547.77,63.49 L548.18,63.71 L548.58,63.94 L548.99,64.17 L549.38,64.4 L549.78,64.63 L550.17,64.86 L550.56,65.09 L550.94,65.32 L551.69,65.79 L552.44,66.27 L553.16,66.74 L553.88,67.22 L554.57,67.71 L555.26,68.2 L555.93,68.69 L556.59,69.18 L557.24,69.68 L557.87,70.18 L558.49,70.68 L559.1,71.19 L559.7,71.7 L560.28,72.21 L560.86,72.73 L561.42,73.25 L561.97,73.77 L562.5,74.29 L563.03,74.82 L563.55,75.35 L564.05,75.88 L564.55,76.42 L565.03,76.95 L565.5,77.49 L565.97,78.03 L566.42,78.57 L566.87,79.12 L567.3,79.66 L567.73,80.21 L568.14,80.76 L568.55,81.32 L568.95,81.87 L569.33,82.42 L569.71,82.98 L570.09,83.54 L570.45,84.1 L570.8,84.66 L571.15,85.22 L571.49,85.79 L571.82,86.35 L572.14,86.92 L572.46,87.49 L572.77,88.06 L573.07,88.63 L573.36,89.2 L573.65,89.77 L573.93,90.34 L574.2,90.91 L574.47,91.49 L574.72,92.06 L574.98,92.64 L575.22,93.21 L575.47,93.79 L575.7,94.37 L575.93,94.94 L576.15,95.52 L576.37,96.1 L576.58,96.68 L576.79,97.26 L576.99,97.83 L577.18,98.41 L577.37,98.99 L577.56,99.57 L577.74,100.15 L577.91,100.73 L578.08,101.31 L578.25,101.89 L578.41,102.47 L578.56,103.05 L578.72,103.63 L578.86,104.21 L579.01,104.79 L579.15,105.36 L579.28,105.94 L579.41,106.52 L579.54,107.1 L579.67,107.67 L579.79,108.25 L579.9,108.83 L580.02,109.4 L580.13,109.98 L580.23,110.55 L580.33,111.13 L580.43,111.7 L580.53,112.27 L580.62,112.85 L580.72,113.42 L580.8,113.99 L580.89,114.56 L580.97,115.13 L581.05,115.7 L581.13,116.26 L581.2,116.83 L581.27,117.4 L581.34,117.96 L581.41,118.52 L581.47,119.09 L581.54,119.65 L581.6,120.21 L581.65,120.77 L581.71,121.33 L581.76,121.89 L581.81,122.44 L581.86,123 L581.91,123.56 L581.96,124.11 L582,124.66 L582.05,125.21 L582.09,125.76 L582.13,126.31 L582.17,126.86 L582.2,127.4 L582.24,127.95 L582.27,128.49 L582.3,129.03 L582.33,129.57 L582.36,130.11 L582.39,130.65 L582.42,131.19 L582.45,131.72 L582.47,132.26 L582.49,132.79 L582.52,133.32 L582.54,133.85 L582.56,134.38 L582.58,134.9 L582.6,135.43 L582.62,135.95 L582.63,136.47 L582.65,136.99 L582.66,137.51 L582.68,138.02 L582.69,138.54 L582.71,139.05 L582.72,139.56 L582.73,140.07 L582.74,140.58 L582.75,141.08 L582.76,141.59 L582.77,142.09 L582.78,142.59 L582.79,143.08 L582.8,143.58 L582.8,144.07 L582.81,144.57 L582.82,145.06 L582.82,145.54 L582.83,146.03 L582.84,146.51 L582.84,146.99 L582.85,147.47 L582.85,147.95 L582.85,148.43 L582.86,148.9 L582.86,149.37 L582.87,149.84 L582.87,150.3 L582.87,150.77 L582.87,151.23 L582.88,151.68 L582.88,152.14 L582.88,152.59 L582.88,153.05 L582.88,153.49 L582.89,154.16 L582.89,154.82 L582.89,155.48 L582.89,156.13 L582.89,156.77 L582.89,157.4 L582.9,158.03 L582.9,158.65 L582.9,159.27 L582.9,159.87 L582.9,160.47 L582.9,161.06 L582.9,161.64 L582.9,162.21 L582.9,162.77 L582.9,163.33 L582.9,163.87 L582.9,164.4 L582.9,164.92 L582.9,165.43 L582.9,165.92 L582.9,166.4 L582.9,166.86 L582.9,167.31 L582.9,167.88 L582.9,168.41 L582.9,168.88 L582.9,169.37 L582.9,169.5" stroke="#5e81b5" stroke-width="1.45" fill="none"/>
<path d="M404.1,58.39 L405.59,58.39 L407.07,58.38 L408.53,58.38 L409.99,58.39 L411.44,58.39 L412.88,58.4 L414.31,58.41 L415.73,58.42 L417.13,58.43 L418.53,58.45 L419.93,58.46 L421.31,58.48 L422.68,58.5 L424.04,58.52 L425.39,58.54 L426.74,58.57 L428.07,58.59 L429.4,58.62 L430.71,58.65 L432.02,58.68 L433.32,58.71 L434.61,58.74 L435.89,58.77 L437.16,58.8 L438.42,58.84 L439.68,58.87 L440.92,58.91 L442.16,58.94 L443.39,58.98 L444.61,59.02 L445.82,59.06 L447.02,59.1 L448.22,59.14 L449.4,59.19 L450.58,59.23 L451.75,59.27 L452.91,59.32 L454.06,59.37 L455.21,59.41 L456.34,59.46 L457.47,59.51 L458.59,59.56 L459.7,59.61 L460.8,59.66 L461.9,59.71 L462.99,59.77 L464.07,59.82 L465.14,59.88 L466.21,59.93 L467.26,59.99 L468.31,60.05 L469.35,60.11 L470.39,60.17 L471.42,60.23 L472.43,60.29 L473.45,60.36 L474.45,60.42 L475.45,60.49 L476.44,60.55 L477.42,60.62 L478.39,60.69 L479.36,60.76 L480.32,60.83 L481.27,60.9 L482.22,60.98 L483.16,61.05 L484.09,61.13 L485.02,61.2 L485.94,61.28 L486.85,61.36 L487.75,61.44 L488.65,61.52 L489.54,61.61 L490.42,61.69 L491.3,61.77 L492.17,61.86 L493.04,61.95 L493.89,62.04 L494.74,62.13 L495.59,62.22 L496.43,62.31 L497.26,62.41 L498.08,62.5 L498.9,62.6 L499.71,62.7 L500.52,62.8 L501.32,62.9 L502.11,63 L502.9,63.11 L503.68,63.21 L504.46,63.32 L505.23,63.43 L505.99,63.54 L506.75,63.65 L507.5,63.76 L508.24,63.87 L508.98,63.99 L509.72,64.1 L510.44,64.22 L511.16,64.34 L511.88,64.46 L512.59,64.58 L513.29,64.7 L513.99,64.83 L514.69,64.95 L515.37,65.08 L516.06,65.21 L516.73,65.34 L517.4,65.47 L518.07,65.6 L518.73,65.74 L519.38,65.87 L520.03,66.01 L520.68,66.15 L521.32,66.29 L521.95,66.43 L522.58,66.57 L523.2,66.71 L523.82,66.86 L524.43,67 L525.04,67.15 L525.64,67.3 L526.24,67.45 L526.83,67.6 L527.42,67.75 L528,67.91 L528.58,68.06 L529.16,68.22 L529.72,68.38 L530.29,68.54 L530.84,68.7 L531.4,68.86 L531.95,69.02 L532.49,69.19 L533.03,69.35 L533.57,69.52 L534.1,69.69 L534.62,69.86 L535.14,70.03 L535.66,70.2 L536.17,70.37 L536.68,70.55 L537.19,70.72 L537.68,70.9 L538.18,71.08 L538.67,71.26 L539.16,71.44 L539.64,71.62 L540.11,71.8 L540.59,71.99 L541.06,72.17 L541.52,72.36 L541.98,72.54 L542.44,72.73 L542.89,72.92 L543.34,73.11 L543.78,73.3 L544.23,73.5 L544.66,73.69 L545.09,73.89 L545.52,74.08 L545.95,74.28 L546.37,74.48 L546.79,74.68 L547.2,74.88 L547.61,75.08 L548.01,75.28 L548.42,75.48 L548.81,75.69 L549.6,76.1 L550.37,76.51 L551.13,76.93 L551.87,77.35 L552.6,77.78 L553.31,78.21 L554.01,78.64 L554.7,79.08 L555.38,79.51 L556.04,79.96 L556.69,80.4 L557.32,80.85 L557.95,81.3 L558.56,81.76 L559.16,82.22 L559.74,82.68 L560.32,83.14 L560.89,83.61 L561.44,84.07 L561.98,84.55 L562.51,85.02 L563.03,85.49 L563.54,85.97 L564.04,86.45 L564.53,86.94 L565.01,87.42 L565.48,87.91 L565.93,88.39 L566.38,88.89 L566.82,89.38 L567.25,89.87 L567.67,90.37 L568.08,90.86 L568.49,91.36 L568.88,91.86 L569.27,92.37 L569.64,92.87 L570.01,93.37 L570.37,93.88 L570.72,94.39 L571.07,94.9 L571.4,95.41 L571.73,95.92 L572.05,96.43 L572.37,96.94 L572.67,97.45 L572.97,97.97 L573.26,98.48 L573.55,99 L573.83,99.52 L574.1,100.03 L574.36,100.55 L574.62,101.07 L574.87,101.59 L575.12,102.11 L575.36,102.63 L575.59,103.15 L575.82,103.67 L576.05,104.19 L576.26,104.71 L576.47,105.23 L576.68,105.75 L576.88,106.27 L577.08,106.8 L577.27,107.32 L577.45,107.84 L577.63,108.36 L577.81,108.88 L577.98,109.4 L578.14,109.93 L578.31,110.45 L578.46,110.97 L578.62,111.49 L578.76,112.01 L578.91,112.53 L579.05,113.05 L579.19,113.57 L579.32,114.09 L579.45,114.6 L579.57,115.12 L579.69,115.64 L579.81,116.16 L579.93,116.67 L580.04,117.19 L580.15,117.7 L580.25,118.22 L580.35,118.73 L580.45,119.24 L580.54,119.75 L580.64,120.27 L580.72,120.78 L580.81,121.29 L580.89,121.79 L580.98,122.3 L581.05,122.81 L581.13,123.32 L581.2,123.82 L581.27,124.32 L581.34,124.83 L581.41,125.33 L581.47,125.83 L581.53,126.33 L581.59,126.83 L581.65,127.33 L581.71,127.82 L581.76,128.32 L581.81,128.81 L581.86,129.31 L581.91,129.8 L581.95,130.29 L582,130.78 L582.04,131.27 L582.08,131.75 L582.12,132.24 L582.16,132.72 L582.19,133.21 L582.23,133.69 L582.26,134.17 L582.3,134.65 L582.33,135.12 L582.36,135.6 L582.38,136.07 L582.41,136.55 L582.44,137.02 L582.46,137.49 L582.49,137.95 L582.51,138.42 L582.53,138.89 L582.55,139.35 L582.57,139.81 L582.59,140.27 L582.61,140.73 L582.62,141.19 L582.64,141.64 L582.66,142.09 L582.67,142.54 L582.69,142.99 L582.7,143.44 L582.72,144.11 L582.74,144.78 L582.75,145.44 L582.77,146.09 L582.78,146.74 L582.79,147.39 L582.8,148.03 L582.81,148.67 L582.82,149.3 L582.83,149.93 L582.84,150.55 L582.85,151.17 L582.85,151.79 L582.86,152.4 L582.86,153 L582.87,153.6 L582.87,154.19 L582.88,154.78 L582.88,155.36 L582.88,155.93 L582.89,156.5 L582.89,157.07 L582.89,157.62 L582.89,158.18 L582.89,158.72 L582.89,159.26 L582.9,159.79 L582.9,160.31 L582.9,160.83 L582.9,161.34 L582.9,161.84 L582.9,162.34 L582.9,162.82 L582.9,163.3 L582.9,163.77 L582.9,164.23 L582.9,164.68 L582.9,165.26 L582.9,165.83 L582.9,166.37 L582.9,166.9 L582.9,167.39 L582.9,167.86 L582.9,168.41 L582.9,168.89 L582.9,169.36 L582.9,169.5" stroke="#e19c24" stroke-width="1.45" fill="none"/>
<path d="M391.1,82.54 L392.7,82.5 L394.28,82.47 L395.86,82.44 L397.42,82.41 L398.97,82.39 L400.52,82.37 L402.05,82.36 L403.57,82.34 L405.08,82.34 L406.58,82.33 L408.08,82.33 L409.56,82.33 L411.03,82.33 L412.49,82.33 L413.94,82.34 L415.38,82.35 L416.82,82.36 L418.24,82.37 L419.65,82.39 L421.05,82.4 L422.44,82.42 L423.83,82.44 L425.2,82.45 L426.57,82.48 L427.92,82.5 L429.27,82.52 L430.6,82.54 L431.93,82.57 L433.25,82.6 L434.55,82.62 L435.85,82.65 L437.14,82.68 L438.42,82.71 L439.7,82.74 L440.96,82.77 L442.21,82.8 L443.46,82.83 L444.69,82.87 L445.92,82.9 L447.14,82.94 L448.35,82.97 L449.55,83.01 L450.74,83.04 L451.93,83.08 L453.1,83.12 L454.27,83.16 L455.43,83.19 L456.58,83.23 L457.72,83.27 L458.86,83.31 L459.98,83.36 L461.1,83.4 L462.21,83.44 L463.31,83.48 L464.4,83.53 L465.49,83.57 L466.56,83.62 L467.63,83.66 L468.7,83.71 L469.75,83.75 L470.79,83.8 L471.83,83.85 L472.86,83.9 L473.89,83.95 L474.9,84 L475.91,84.05 L476.91,84.1 L477.9,84.15 L478.89,84.21 L479.86,84.26 L480.83,84.32 L481.8,84.37 L482.75,84.43 L483.7,84.48 L484.64,84.54 L485.58,84.6 L486.5,84.66 L487.42,84.72 L488.33,84.78 L489.24,84.85 L490.14,84.91 L491.03,84.97 L491.92,85.04 L492.79,85.1 L493.67,85.17 L494.53,85.24 L495.39,85.31 L496.24,85.38 L497.08,85.45 L497.92,85.52 L498.75,85.59 L499.58,85.66 L500.4,85.74 L501.21,85.81 L502.02,85.89 L502.81,85.97 L503.61,86.05 L504.39,86.12 L505.17,86.21 L505.95,86.29 L506.72,86.37 L507.48,86.45 L508.23,86.54 L508.98,86.62 L509.73,86.71 L510.46,86.8 L511.2,86.89 L511.92,86.98 L512.64,87.07 L513.36,87.16 L514.06,87.25 L514.77,87.35 L515.46,87.44 L516.15,87.54 L516.84,87.63 L517.52,87.73 L518.19,87.83 L518.86,87.93 L519.52,88.03 L520.18,88.14 L520.83,88.24 L521.48,88.34 L522.12,88.45 L522.76,88.56 L523.39,88.66 L524.01,88.77 L524.63,88.88 L525.25,88.99 L525.86,89.11 L526.46,89.22 L527.06,89.33 L527.65,89.45 L528.24,89.57 L528.83,89.68 L529.41,89.8 L529.98,89.92 L530.55,90.04 L531.11,90.16 L531.67,90.28 L532.23,90.41 L532.78,90.53 L533.32,90.66 L533.86,90.78 L534.4,90.91 L534.93,91.04 L535.45,91.17 L535.97,91.3 L536.49,91.43 L537,91.56 L537.51,91.7 L538.01,91.83 L538.51,91.97 L539.01,92.1 L539.5,92.24 L539.98,92.38 L540.46,92.52 L540.94,92.66 L541.41,92.8 L541.88,92.94 L542.35,93.08 L542.81,93.23 L543.26,93.37 L543.71,93.52 L544.16,93.67 L544.6,93.81 L545.04,93.96 L545.48,94.11 L545.91,94.26 L546.34,94.41 L546.76,94.56 L547.59,94.87 L548.41,95.18 L549.22,95.49 L550.01,95.8 L550.78,96.12 L551.54,96.44 L552.28,96.77 L553.01,97.1 L553.73,97.43 L554.43,97.76 L555.12,98.1 L555.8,98.44 L556.46,98.78 L557.11,99.12 L557.75,99.47 L558.37,99.82 L558.98,100.17 L559.58,100.52 L560.17,100.88 L560.75,101.24 L561.31,101.6 L561.86,101.96 L562.4,102.33 L562.93,102.7 L563.45,103.07 L563.96,103.44 L564.46,103.81 L564.94,104.19 L565.42,104.56 L565.88,104.94 L566.34,105.32 L566.79,105.7 L567.22,106.09 L567.65,106.47 L568.07,106.86 L568.48,107.25 L568.88,107.64 L569.27,108.03 L569.65,108.42 L570.02,108.81 L570.39,109.21 L570.74,109.6 L571.09,110 L571.43,110.4 L571.76,110.79 L572.09,111.19 L572.41,111.59 L572.72,112 L573.02,112.4 L573.31,112.8 L573.6,113.2 L573.88,113.61 L574.16,114.01 L574.42,114.42 L574.68,114.83 L574.94,115.23 L575.19,115.64 L575.43,116.05 L575.66,116.46 L575.89,116.86 L576.12,117.27 L576.34,117.68 L576.55,118.09 L576.75,118.5 L576.96,118.91 L577.15,119.32 L577.34,119.73 L577.53,120.14 L577.71,120.56 L577.97,121.17 L578.22,121.79 L578.46,122.4 L578.7,123.02 L578.92,123.64 L579.13,124.25 L579.33,124.87 L579.53,125.48 L579.71,126.1 L579.89,126.71 L580.06,127.32 L580.22,127.94 L580.37,128.55 L580.52,129.16 L580.66,129.77 L580.79,130.37 L580.92,130.98 L581.04,131.59 L581.16,132.19 L581.26,132.79 L581.37,133.39 L581.47,133.99 L581.56,134.59 L581.65,135.19 L581.73,135.78 L581.81,136.38 L581.88,136.97 L581.95,137.56 L582.02,138.14 L582.08,138.73 L582.14,139.31 L582.2,139.89 L582.25,140.47 L582.3,141.05 L582.35,141.62 L582.39,142.2 L582.43,142.77 L582.47,143.33 L582.5,143.9 L582.54,144.46 L582.57,145.02 L582.6,145.58 L582.62,146.13 L582.65,146.69 L582.67,147.23 L582.69,147.78 L582.71,148.32 L582.73,148.86 L582.75,149.4 L582.76,149.94 L582.78,150.47 L582.79,151 L582.8,151.52 L582.81,152.04 L582.82,152.56 L582.83,153.08 L582.84,153.59 L582.85,154.1 L582.85,154.6 L582.86,155.1 L582.86,155.6 L582.87,156.09 L582.87,156.58 L582.88,157.06 L582.88,157.54 L582.88,158.02 L582.89,158.49 L582.89,158.96 L582.89,159.43 L582.89,159.88 L582.89,160.34 L582.89,160.79 L582.9,161.38 L582.9,161.96 L582.9,162.53 L582.9,163.09 L582.9,163.65 L582.9,164.19 L582.9,164.71 L582.9,165.23 L582.9,165.73 L582.9,166.22 L582.9,166.69 L582.9,167.15 L582.9,167.69 L582.9,168.2 L582.9,168.67 L582.9,169.16 L582.9,169.5" stroke="#8fb032" stroke-width="1.45" fill="none"/>
<path d="M615.9,65.2 h13.8" stroke="#5e81b5" stroke-width="1.35"/>
<path d="M615.9,89 h13.8" stroke="#e19c24" stroke-width="1.35"/>
<path d="M615.9,112.3 h13.8" stroke="#8fb032" stroke-width="1.35"/>
<text x="636.71" y="69.5" font-size="12.4" font-style="italic">γ</text>
<text transform="translate(646.95,70.8) scale(1.12,1)" x="-3.5" y="0" font-size="12.4">=</text>
<text transform="translate(654.85,70.8) scale(1.12,1)" x="-3.5" y="0" font-size="12.4">−</text>
<path d="M660.8,65.1 h9.7" stroke="#000" stroke-width="0.7"/>
<text x="663.16" y="64.35" font-size="8.3" stroke-width="0.22">1</text>
<text x="662.06" y="74.5" font-size="8.3" stroke-width="0.22">1</text>
<text x="666.17" y="74.5" font-size="8.3" stroke-width="0.22">2</text>
<text x="636.81" y="93.3" font-size="12.4" font-style="italic">γ</text>
<text transform="translate(646.95,94.6) scale(1.12,1)" x="-3.5" y="0" font-size="12.4">=</text>
<text x="651.15" y="93.3" font-size="12.4">0</text>
<text x="636.71" y="116.6" font-size="12.4" font-style="italic">γ</text>
<text transform="translate(646.95,117.9) scale(1.12,1)" x="-3.5" y="0" font-size="12.4">=</text>
<path d="M652.7,112.2 h9.6" stroke="#000" stroke-width="0.7"/>
<text x="655.11" y="111.45" font-size="8.3" stroke-width="0.22">1</text>
<text x="653.91" y="121.6" font-size="8.3" stroke-width="0.22">1</text>
<text x="658.02" y="121.6" font-size="8.3" stroke-width="0.22">2</text>
<text transform="translate(91.1,201.7) scale(1.2,1)" x="-3.54" y="0" font-size="12.4" font-style="italic">α</text>
<text x="94.52" y="203.6" font-size="9" stroke-width="0.22">1</text>
<text transform="translate(103.35,202.1) scale(1.12,1)" x="-3.5" y="0" font-size="12.4">=</text>
<text transform="translate(111.35,202.1) scale(1.12,1)" x="-3.5" y="0" font-size="12.4">−</text>
<text x="115.55" y="201.7" font-size="12.4">0</text>
<text x="121.95" y="201.7" font-size="12.4">.</text>
<text x="124.97" y="201.7" font-size="12.4">2</text>
<text x="131.4" y="201.7" font-size="12.4">,</text>
<text x="135.21" y="201.7" font-size="12.4" font-style="italic">γ</text>
<text transform="translate(144.65,202.1) scale(1.12,1)" x="-3.5" y="0" font-size="12.4">=</text>
<text x="149.25" y="201.7" font-size="12.4">0</text>
<path d="M-0.3,214.4 H32.5" stroke="#000" stroke-width="0.75"/>
<path d="M0.4,210.4 L1.4,209.8 L3.1,213.7 L5.6,205.6 H31.3" stroke="#000" stroke-width="0.7" fill="none" stroke-linejoin="bevel"/>
<text x="6.64" y="214.4" font-size="9.6" stroke-width="0.22">&lt;</text>
<text x="12.75" y="213.7" font-size="8.4" font-style="italic" stroke-width="0.22">O</text>
<text x="19.13" y="214" font-size="5" stroke-width="0.22">2</text>
<text x="23.23" y="214.4" font-size="9.6" stroke-width="0.22">&gt;</text>
<text x="12.11" y="223.8" font-size="8.5" font-style="italic" stroke-width="0.22">T</text>
<text x="16.42" y="225" font-size="6.8" font-style="italic" stroke-width="0.22">c</text>
<path d="M11.5,363.5 H230.9" stroke="#000" stroke-opacity="0.6" stroke-width="1" fill="none"/>
<path d="M16,230.5 V365.6" stroke="#000" stroke-opacity="0.6" stroke-width="1" fill="none"/>
<path d="M26.55,363.5 v-1.5 M37.09,363.5 v-1.5 M47.64,363.5 v-1.5 M58.19,363.5 v-2.8 M68.74,363.5 v-1.5 M79.28,363.5 v-1.5 M89.83,363.5 v-1.5 M100.38,363.5 v-2.8 M110.93,363.5 v-1.5 M121.48,363.5 v-1.5 M132.02,363.5 v-1.5 M142.57,363.5 v-2.8 M153.12,363.5 v-1.5 M163.66,363.5 v-1.5 M174.21,363.5 v-1.5 M184.76,363.5 v-2.8 M195.31,363.5 v-1.5 M205.86,363.5 v-1.5 M216.4,363.5 v-1.5 M226.95,363.5 v-2.8 M16,356.69 h1.4 M16,349.87 h1.4 M16,343.06 h1.4 M16,336.24 h2.6 M16,329.43 h1.4 M16,322.61 h1.4 M16,315.8 h1.4 M16,308.98 h2.6 M16,302.17 h1.4 M16,295.35 h1.4 M16,288.53 h1.4 M16,281.72 h2.6 M16,274.9 h1.4 M16,268.09 h1.4 M16,261.27 h1.4 M16,254.46 h2.6 M16,247.64 h1.4 M16,240.83 h1.4 M16,234.01 h1.4" stroke="#000" stroke-opacity="0.6" stroke-width="0.9" fill="none"/>
<text transform="translate(13.6,340.54) scale(0.97,1)" font-size="12.4" text-anchor="end">2</text>
<text transform="translate(13.6,313.28) scale(0.97,1)" font-size="12.4" text-anchor="end">4</text>
<text transform="translate(13.6,286.02) scale(0.97,1)" font-size="12.4" text-anchor="end">6</text>
<text transform="translate(13.6,258.76) scale(0.97,1)" font-size="12.4" text-anchor="end">8</text>
<text transform="translate(58.19,377.4) scale(0.97,1)" font-size="12.4" text-anchor="middle">0.2</text>
<text transform="translate(100.38,377.4) scale(0.97,1)" font-size="12.4" text-anchor="middle">0.4</text>
<text transform="translate(142.57,377.4) scale(0.97,1)" font-size="12.4" text-anchor="middle">0.6</text>
<text transform="translate(184.76,377.4) scale(0.97,1)" font-size="12.4" text-anchor="middle">0.8</text>
<text transform="translate(226.95,377.4) scale(0.97,1)" font-size="12.4" text-anchor="middle">1.0</text>
<path d="M238.5,361.1 h9.3" stroke="#000" stroke-width="0.75"/>
<text x="240.51" y="360.2" font-size="8.2" font-style="italic" stroke-width="0.22">T</text>
<text x="239.11" y="370.2" font-size="8.2" font-style="italic" stroke-width="0.22">T</text>
<text x="243.52" y="371.4" font-size="6.6" font-style="italic" stroke-width="0.22">c</text>
<path d="M33,237.16 L34.61,237.19 L36.22,237.21 L37.81,237.24 L39.39,237.27 L40.96,237.3 L42.52,237.33 L44.07,237.37 L45.61,237.41 L47.14,237.46 L48.66,237.5 L50.17,237.55 L51.66,237.6 L53.15,237.65 L54.63,237.7 L56.1,237.75 L57.56,237.81 L59,237.86 L60.44,237.92 L61.87,237.98 L63.29,238.04 L64.7,238.1 L66.09,238.16 L67.48,238.22 L68.86,238.29 L70.23,238.35 L71.59,238.42 L72.94,238.48 L74.29,238.55 L75.62,238.62 L76.94,238.68 L78.25,238.75 L79.56,238.82 L80.85,238.89 L82.14,238.96 L83.42,239.03 L84.69,239.11 L85.94,239.18 L87.19,239.25 L88.44,239.33 L89.67,239.4 L90.89,239.47 L92.11,239.55 L93.31,239.63 L94.51,239.7 L95.7,239.78 L96.88,239.86 L98.05,239.94 L99.21,240.02 L100.37,240.1 L101.52,240.18 L102.65,240.26 L103.78,240.34 L104.91,240.42 L106.02,240.51 L107.12,240.59 L108.22,240.68 L109.31,240.76 L110.39,240.85 L111.47,240.94 L112.53,241.02 L113.59,241.11 L114.64,241.2 L115.68,241.29 L116.71,241.39 L117.74,241.48 L118.76,241.57 L119.77,241.67 L120.77,241.76 L121.77,241.86 L122.76,241.96 L123.74,242.06 L124.71,242.16 L125.68,242.26 L126.64,242.36 L127.59,242.46 L128.53,242.56 L129.47,242.67 L130.4,242.78 L131.32,242.88 L132.24,242.99 L133.15,243.1 L134.05,243.21 L134.95,243.33 L135.83,243.44 L136.72,243.55 L137.59,243.67 L138.46,243.79 L139.32,243.9 L140.17,244.02 L141.02,244.15 L141.86,244.27 L142.7,244.39 L143.52,244.52 L144.34,244.64 L145.16,244.77 L145.97,244.9 L146.77,245.03 L147.56,245.16 L148.35,245.29 L149.14,245.43 L149.91,245.56 L150.68,245.7 L151.45,245.84 L152.21,245.98 L152.96,246.12 L153.7,246.26 L154.44,246.41 L155.18,246.55 L155.9,246.7 L156.63,246.85 L157.34,246.99 L158.05,247.15 L158.76,247.3 L159.46,247.45 L160.15,247.61 L160.84,247.76 L161.52,247.92 L162.19,248.08 L162.86,248.24 L163.53,248.4 L164.19,248.57 L164.84,248.73 L165.49,248.9 L166.13,249.07 L166.77,249.23 L167.4,249.41 L168.03,249.58 L168.65,249.75 L169.27,249.92 L169.88,250.1 L170.48,250.28 L171.08,250.46 L171.68,250.64 L172.27,250.82 L172.86,251 L173.44,251.19 L174.01,251.37 L174.58,251.56 L175.15,251.75 L175.71,251.94 L176.26,252.13 L176.82,252.32 L177.36,252.51 L177.9,252.71 L178.44,252.9 L178.97,253.1 L179.5,253.3 L180.02,253.5 L180.54,253.7 L181.05,253.9 L181.56,254.11 L182.07,254.31 L182.57,254.52 L183.06,254.72 L183.55,254.93 L184.04,255.14 L184.52,255.35 L185,255.57 L185.47,255.78 L185.94,255.99 L186.41,256.21 L186.87,256.43 L187.32,256.64 L187.78,256.86 L188.22,257.08 L188.67,257.3 L189.11,257.53 L189.54,257.75 L189.98,257.98 L190.4,258.2 L190.83,258.43 L191.25,258.66 L191.66,258.89 L192.08,259.12 L192.48,259.35 L192.89,259.58 L193.29,259.81 L193.69,260.05 L194.08,260.28 L194.47,260.52 L194.86,260.75 L195.24,260.99 L195.62,261.23 L196.36,261.71 L197.09,262.2 L197.81,262.69 L198.51,263.18 L199.2,263.67 L199.88,264.17 L200.55,264.67 L201.2,265.18 L201.83,265.69 L202.46,266.2 L203.07,266.72 L203.67,267.23 L204.26,267.75 L204.83,268.28 L205.4,268.81 L205.95,269.33 L206.49,269.87 L207.02,270.4 L207.54,270.94 L208.05,271.48 L208.55,272.02 L209.03,272.56 L209.51,273.11 L209.98,273.65 L210.43,274.2 L210.88,274.76 L211.31,275.31 L211.74,275.86 L212.16,276.42 L212.57,276.98 L212.97,277.54 L213.36,278.1 L213.74,278.67 L214.11,279.23 L214.48,279.8 L214.83,280.37 L215.18,280.94 L215.52,281.51 L215.85,282.08 L216.18,282.65 L216.5,283.22 L216.81,283.8 L217.11,284.37 L217.4,284.95 L217.69,285.52 L217.97,286.1 L218.24,286.68 L218.51,287.26 L218.77,287.84 L219.03,288.42 L219.27,289 L219.51,289.58 L219.75,290.16 L219.98,290.74 L220.2,291.32 L220.42,291.91 L220.63,292.49 L220.84,293.07 L221.04,293.65 L221.24,294.23 L221.43,294.82 L221.61,295.4 L221.79,295.98 L221.97,296.56 L222.14,297.15 L222.3,297.73 L222.46,298.31 L222.62,298.89 L222.77,299.47 L222.92,300.05 L223.07,300.63 L223.21,301.21 L223.34,301.79 L223.47,302.37 L223.6,302.95 L223.72,303.53 L223.84,304.11 L223.96,304.68 L224.07,305.26 L224.18,305.83 L224.29,306.41 L224.39,306.98 L224.49,307.56 L224.59,308.13 L224.68,308.7 L224.77,309.27 L224.86,309.84 L224.95,310.41 L225.03,310.98 L225.11,311.54 L225.19,312.11 L225.26,312.68 L225.33,313.24 L225.4,313.8 L225.47,314.36 L225.53,314.92 L225.59,315.48 L225.65,316.04 L225.71,316.6 L225.77,317.15 L225.82,317.71 L225.87,318.26 L225.92,318.81 L225.97,319.36 L226.02,319.91 L226.06,320.46 L226.1,321.01 L226.15,321.55 L226.18,322.1 L226.22,322.64 L226.26,323.18 L226.29,323.72 L226.33,324.26 L226.36,324.79 L226.39,325.33 L226.42,325.86 L226.45,326.39 L226.47,326.92 L226.5,327.45 L226.53,327.98 L226.55,328.5 L226.57,329.02 L226.59,329.54 L226.61,330.06 L226.63,330.58 L226.65,331.1 L226.67,331.61 L226.69,332.12 L226.7,332.63 L226.72,333.14 L226.73,333.65 L226.75,334.15 L226.76,334.66 L226.77,335.16 L226.78,335.65 L226.79,336.15 L226.8,336.65 L226.81,337.14 L226.82,337.63 L226.83,338.12 L226.84,338.6 L226.85,339.09 L226.86,339.57 L226.86,340.05 L226.87,340.53 L226.88,341 L226.88,341.47 L226.89,341.94 L226.89,342.41 L226.9,342.88 L226.9,343.34 L226.91,343.8 L226.91,344.26 L226.91,344.71 L226.92,345.17 L226.92,345.62 L226.92,346.07 L226.93,346.73 L226.93,347.39 L226.93,348.05 L226.94,348.7 L226.94,349.34 L226.94,349.97 L226.94,350.6 L226.94,351.22 L226.94,351.83 L226.95,352.44 L226.95,353.04 L226.95,353.63 L226.95,354.21 L226.95,354.78 L226.95,355.35 L226.95,355.9 L226.95,356.45 L226.95,356.99 L226.95,357.51 L226.95,358.03 L226.95,358.53 L226.95,359.03 L226.95,359.51 L226.95,359.98 L226.95,360.43 L226.95,361.01 L226.95,361.56 L226.95,362.07 L226.95,362.55 L226.95,363.07 L226.95,363.5" stroke="#5e81b5" stroke-width="1.45" fill="none"/>
<path d="M31.05,248.41 L32.68,248.45 L34.3,248.49 L35.91,248.53 L37.5,248.57 L39.09,248.61 L40.67,248.66 L42.23,248.7 L43.79,248.74 L45.33,248.79 L46.87,248.84 L48.39,248.88 L49.9,248.93 L51.41,248.98 L52.9,249.03 L54.38,249.07 L55.85,249.12 L57.32,249.17 L58.77,249.22 L60.21,249.28 L61.64,249.33 L63.06,249.38 L64.48,249.43 L65.88,249.48 L67.27,249.54 L68.66,249.59 L70.03,249.65 L71.4,249.7 L72.75,249.76 L74.1,249.82 L75.43,249.87 L76.76,249.93 L78.08,249.99 L79.39,250.05 L80.68,250.11 L81.97,250.17 L83.25,250.23 L84.53,250.29 L85.79,250.35 L87.04,250.41 L88.29,250.48 L89.52,250.54 L90.75,250.61 L91.97,250.67 L93.18,250.74 L94.38,250.8 L95.57,250.87 L96.75,250.94 L97.93,251.01 L99.1,251.08 L100.25,251.15 L101.4,251.23 L102.55,251.3 L103.68,251.37 L104.8,251.45 L105.92,251.53 L107.03,251.6 L108.13,251.68 L109.22,251.76 L110.3,251.84 L111.38,251.92 L112.45,252.01 L113.51,252.09 L114.56,252.17 L115.61,252.26 L116.64,252.35 L117.67,252.43 L118.69,252.52 L119.71,252.61 L120.71,252.71 L121.71,252.8 L122.7,252.89 L123.68,252.99 L124.66,253.08 L125.63,253.18 L126.59,253.28 L127.54,253.38 L128.49,253.48 L129.43,253.59 L130.36,253.69 L131.29,253.79 L132.21,253.9 L133.12,254.01 L134.02,254.12 L134.92,254.23 L135.81,254.34 L136.69,254.45 L137.57,254.57 L138.44,254.69 L139.3,254.8 L140.16,254.92 L141.01,255.04 L141.85,255.16 L142.68,255.29 L143.51,255.41 L144.34,255.53 L145.15,255.66 L145.96,255.79 L146.77,255.92 L147.56,256.05 L148.35,256.18 L149.14,256.32 L149.92,256.45 L150.69,256.59 L151.45,256.73 L152.21,256.86 L152.97,257.01 L153.71,257.15 L154.46,257.29 L155.19,257.44 L155.92,257.58 L156.64,257.73 L157.36,257.88 L158.07,258.03 L158.78,258.18 L159.48,258.33 L160.17,258.49 L160.86,258.64 L161.54,258.8 L162.22,258.96 L162.89,259.12 L163.56,259.28 L164.22,259.44 L164.87,259.6 L165.52,259.77 L166.17,259.93 L166.8,260.1 L167.44,260.27 L168.06,260.44 L168.69,260.61 L169.3,260.78 L169.92,260.95 L170.52,261.13 L171.12,261.31 L171.72,261.48 L172.31,261.66 L172.9,261.84 L173.48,262.02 L174.06,262.2 L174.63,262.39 L175.19,262.57 L175.75,262.76 L176.31,262.94 L176.86,263.13 L177.41,263.32 L177.95,263.51 L178.49,263.7 L179.02,263.9 L179.55,264.09 L180.07,264.29 L180.59,264.48 L181.11,264.68 L181.61,264.88 L182.12,265.08 L182.62,265.28 L183.12,265.48 L183.61,265.68 L184.09,265.88 L184.58,266.09 L185.05,266.3 L185.53,266.5 L186,266.71 L186.46,266.92 L186.92,267.13 L187.38,267.34 L187.83,267.55 L188.28,267.76 L188.73,267.98 L189.17,268.19 L189.6,268.41 L190.04,268.62 L190.46,268.84 L190.89,269.06 L191.31,269.28 L191.73,269.5 L192.14,269.72 L192.55,269.94 L192.95,270.16 L193.35,270.39 L193.75,270.61 L194.14,270.84 L194.53,271.06 L194.92,271.29 L195.68,271.75 L196.43,272.21 L197.16,272.67 L197.88,273.13 L198.58,273.6 L199.27,274.07 L199.95,274.55 L200.61,275.03 L201.26,275.51 L201.9,275.99 L202.52,276.47 L203.13,276.96 L203.73,277.45 L204.32,277.94 L204.9,278.43 L205.46,278.93 L206.01,279.43 L206.55,279.93 L207.08,280.43 L207.6,280.94 L208.11,281.44 L208.61,281.95 L209.09,282.46 L209.57,282.97 L210.04,283.48 L210.49,284 L210.94,284.51 L211.37,285.03 L211.8,285.55 L212.22,286.07 L212.63,286.59 L213.03,287.11 L213.42,287.63 L213.8,288.16 L214.17,288.68 L214.53,289.21 L214.89,289.74 L215.24,290.26 L215.58,290.79 L215.91,291.32 L216.23,291.85 L216.55,292.38 L216.86,292.91 L217.16,293.44 L217.45,293.98 L217.74,294.51 L218.02,295.04 L218.29,295.57 L218.56,296.11 L218.82,296.64 L219.07,297.17 L219.32,297.71 L219.56,298.24 L219.79,298.78 L220.02,299.31 L220.24,299.85 L220.46,300.38 L220.67,300.91 L220.88,301.45 L221.08,301.98 L221.27,302.51 L221.46,303.05 L221.65,303.58 L221.83,304.11 L222,304.65 L222.17,305.18 L222.34,305.71 L222.5,306.24 L222.66,306.77 L222.81,307.3 L222.95,307.83 L223.1,308.36 L223.24,308.89 L223.37,309.41 L223.5,309.94 L223.63,310.47 L223.75,310.99 L223.87,311.52 L223.99,312.04 L224.1,312.56 L224.21,313.09 L224.32,313.61 L224.42,314.13 L224.52,314.65 L224.61,315.17 L224.71,315.68 L224.8,316.2 L224.88,316.72 L224.97,317.23 L225.05,317.74 L225.13,318.26 L225.21,318.77 L225.28,319.28 L225.35,319.79 L225.42,320.29 L225.49,320.8 L225.55,321.3 L225.61,321.81 L225.67,322.31 L225.73,322.81 L225.78,323.31 L225.84,323.81 L225.89,324.31 L225.94,324.8 L225.98,325.3 L226.03,325.79 L226.07,326.28 L226.12,326.77 L226.16,327.26 L226.2,327.75 L226.23,328.23 L226.27,328.72 L226.3,329.2 L226.34,329.68 L226.37,330.16 L226.4,330.64 L226.43,331.11 L226.46,331.59 L226.48,332.06 L226.51,332.53 L226.53,333 L226.56,333.47 L226.58,333.93 L226.6,334.39 L226.62,334.86 L226.64,335.32 L226.66,335.77 L226.68,336.23 L226.69,336.69 L226.71,337.14 L226.72,337.59 L226.74,338.04 L226.76,338.71 L226.78,339.37 L226.79,340.03 L226.81,340.69 L226.82,341.34 L226.84,341.98 L226.85,342.62 L226.86,343.26 L226.87,343.89 L226.88,344.52 L226.89,345.14 L226.89,345.75 L226.9,346.36 L226.91,346.97 L226.91,347.57 L226.92,348.16 L226.92,348.75 L226.93,349.33 L226.93,349.9 L226.93,350.47 L226.93,351.04 L226.94,351.59 L226.94,352.14 L226.94,352.69 L226.94,353.22 L226.94,353.75 L226.95,354.27 L226.95,354.79 L226.95,355.29 L226.95,355.79 L226.95,356.28 L226.95,356.76 L226.95,357.24 L226.95,357.7 L226.95,358.16 L226.95,358.75 L226.95,359.32 L226.95,359.87 L226.95,360.4 L226.95,360.91 L226.95,361.4 L226.95,361.86 L226.95,362.38 L226.95,362.85 L226.95,363.31 L226.95,363.5" stroke="#e19c24" stroke-width="1.45" fill="none"/>
<path d="M27.1,287.56 L28.76,287.57 L30.41,287.59 L32.05,287.61 L33.68,287.64 L35.3,287.66 L36.91,287.7 L38.51,287.73 L40.09,287.76 L41.67,287.8 L43.23,287.84 L44.79,287.89 L46.33,287.93 L47.87,287.98 L49.39,288.03 L50.9,288.08 L52.4,288.14 L53.89,288.19 L55.38,288.25 L56.85,288.31 L58.31,288.37 L59.76,288.43 L61.2,288.49 L62.63,288.56 L64.05,288.62 L65.47,288.69 L66.87,288.76 L68.26,288.83 L69.64,288.9 L71.01,288.98 L72.38,289.05 L73.73,289.12 L75.08,289.2 L76.41,289.28 L77.74,289.35 L79.05,289.43 L80.36,289.51 L81.65,289.59 L82.94,289.68 L84.22,289.76 L85.49,289.84 L86.75,289.93 L88,290.01 L89.25,290.1 L90.48,290.18 L91.71,290.27 L92.92,290.36 L94.13,290.45 L95.33,290.53 L96.52,290.62 L97.7,290.71 L98.87,290.81 L100.04,290.9 L101.19,290.99 L102.34,291.08 L103.48,291.18 L104.61,291.27 L105.73,291.37 L106.85,291.46 L107.95,291.56 L109.05,291.65 L110.14,291.75 L111.22,291.85 L112.29,291.94 L113.36,292.04 L114.42,292.14 L115.47,292.24 L116.51,292.34 L117.54,292.44 L118.57,292.54 L119.59,292.64 L120.6,292.75 L121.6,292.85 L122.6,292.95 L123.59,293.06 L124.57,293.16 L125.54,293.26 L126.51,293.37 L127.46,293.47 L128.42,293.58 L129.36,293.69 L130.3,293.79 L131.23,293.9 L132.15,294.01 L133.06,294.11 L133.97,294.22 L134.87,294.33 L135.77,294.44 L136.65,294.55 L137.53,294.66 L138.41,294.77 L139.27,294.88 L140.13,294.99 L140.98,295.11 L141.83,295.22 L142.67,295.33 L143.5,295.45 L144.33,295.56 L145.15,295.67 L145.96,295.79 L146.77,295.9 L147.57,296.02 L148.36,296.14 L149.15,296.25 L149.93,296.37 L150.71,296.49 L151.47,296.6 L152.24,296.72 L152.99,296.84 L153.74,296.96 L154.49,297.08 L155.23,297.2 L155.96,297.32 L156.68,297.44 L157.4,297.56 L158.12,297.68 L158.83,297.81 L159.53,297.93 L160.22,298.05 L160.91,298.17 L161.6,298.3 L162.28,298.42 L162.95,298.55 L163.62,298.67 L164.28,298.8 L164.94,298.92 L165.59,299.05 L166.24,299.18 L166.88,299.3 L167.51,299.43 L168.14,299.56 L168.77,299.69 L169.39,299.82 L170,299.95 L170.61,300.08 L171.21,300.21 L171.81,300.34 L172.4,300.47 L172.99,300.6 L173.57,300.73 L174.15,300.86 L174.72,301 L175.29,301.13 L175.85,301.26 L176.41,301.39 L176.96,301.53 L177.51,301.66 L178.06,301.8 L178.59,301.93 L179.13,302.07 L179.66,302.2 L180.18,302.34 L180.7,302.48 L181.22,302.61 L181.73,302.75 L182.23,302.89 L182.73,303.03 L183.23,303.17 L183.72,303.31 L184.21,303.44 L184.69,303.58 L185.17,303.72 L185.65,303.86 L186.12,304 L186.58,304.15 L187.05,304.29 L187.5,304.43 L187.96,304.57 L188.41,304.71 L188.85,304.86 L189.29,305 L189.73,305.14 L190.16,305.29 L190.59,305.43 L191.02,305.57 L191.85,305.86 L192.67,306.15 L193.48,306.44 L194.27,306.74 L195.05,307.03 L195.81,307.33 L196.56,307.62 L197.29,307.92 L198.01,308.22 L198.71,308.52 L199.4,308.82 L200.08,309.12 L200.74,309.42 L201.39,309.73 L202.03,310.03 L202.65,310.34 L203.27,310.64 L203.87,310.95 L204.45,311.26 L205.03,311.56 L205.59,311.87 L206.14,312.18 L206.68,312.49 L207.21,312.8 L207.73,313.12 L208.24,313.43 L208.73,313.74 L209.22,314.06 L209.7,314.37 L210.16,314.68 L210.62,315 L211.06,315.32 L211.5,315.63 L211.92,315.95 L212.34,316.27 L212.74,316.58 L213.14,316.9 L213.53,317.22 L213.91,317.54 L214.28,317.86 L214.65,318.18 L215,318.5 L215.35,318.81 L215.69,319.13 L216.02,319.45 L216.34,319.77 L216.65,320.1 L217.11,320.58 L217.55,321.06 L217.98,321.54 L218.39,322.02 L218.78,322.5 L219.16,322.98 L219.53,323.46 L219.88,323.94 L220.22,324.43 L220.55,324.91 L220.86,325.39 L221.16,325.87 L221.45,326.35 L221.73,326.82 L221.99,327.3 L222.25,327.78 L222.49,328.26 L222.72,328.73 L222.95,329.21 L223.16,329.68 L223.37,330.16 L223.56,330.63 L223.75,331.1 L223.93,331.58 L224.1,332.05 L224.26,332.51 L224.42,332.98 L224.57,333.45 L224.71,333.92 L224.84,334.38 L224.97,334.84 L225.09,335.31 L225.21,335.77 L225.32,336.22 L225.42,336.68 L225.52,337.14 L225.61,337.59 L225.7,338.05 L225.79,338.5 L225.87,338.95 L225.94,339.4 L226.01,339.84 L226.08,340.29 L226.14,340.73 L226.22,341.32 L226.29,341.91 L226.36,342.49 L226.42,343.07 L226.47,343.64 L226.52,344.21 L226.57,344.78 L226.61,345.34 L226.65,345.9 L226.69,346.46 L226.72,347.01 L226.75,347.56 L226.77,348.1 L226.8,348.64 L226.82,349.18 L226.83,349.71 L226.85,350.24 L226.86,350.76 L226.88,351.28 L226.89,351.79 L226.9,352.3 L226.91,352.8 L226.91,353.29 L226.92,353.79 L226.93,354.27 L226.93,354.75 L226.93,355.22 L226.94,355.69 L226.94,356.15 L226.94,356.61 L226.94,357.06 L226.95,357.61 L226.95,358.15 L226.95,358.67 L226.95,359.19 L226.95,359.69 L226.95,360.18 L226.95,360.65 L226.95,361.1 L226.95,361.62 L226.95,362.11 L226.95,362.56 L226.95,363.03 L226.95,363.48 L226.95,363.5" stroke="#8fb032" stroke-width="1.45" fill="none"/>
<path d="M16.9,345.3 h2" stroke="#8fb032" stroke-width="1"/>
<path d="M259.8,261.9 h14.1" stroke="#5e81b5" stroke-width="1.35"/>
<path d="M259.8,282.9 h14.1" stroke="#e19c24" stroke-width="1.35"/>
<path d="M259.8,303 h14.1" stroke="#8fb032" stroke-width="1.35"/>
<text x="280.91" y="266.65" font-size="12.4" font-style="italic">γ</text>
<text x="286.89" y="268.55" font-size="8" stroke-width="0.22">1</text>
<text transform="translate(295.55,267.95) scale(1.12,1)" x="-3.5" y="0" font-size="12.4">=</text>
<text transform="translate(303.45,267.95) scale(1.12,1)" x="-3.5" y="0" font-size="12.4">−</text>
<text x="307.8" y="266.65" font-size="12.4">0</text>
<text x="313.85" y="266.65" font-size="12.4">.</text>
<text x="317.2" y="266.65" font-size="12.4">0</text>
<text x="323.52" y="266.65" font-size="12.4">2</text>
<text x="280.91" y="287.65" font-size="12.4" font-style="italic">γ</text>
<text x="286.89" y="289.55" font-size="8" stroke-width="0.22">1</text>
<text transform="translate(295.55,288.95) scale(1.12,1)" x="-3.5" y="0" font-size="12.4">=</text>
<text x="299.65" y="287.65" font-size="12.4">0</text>
<text x="280.91" y="307.75" font-size="12.4" font-style="italic">γ</text>
<text x="286.89" y="309.65" font-size="8" stroke-width="0.22">1</text>
<text transform="translate(295.55,309.05) scale(1.12,1)" x="-3.5" y="0" font-size="12.4">=</text>
<text x="299.65" y="307.75" font-size="12.4">0</text>
<text x="305.7" y="307.75" font-size="12.4">.</text>
<text x="309.05" y="307.75" font-size="12.4">0</text>
<text x="315.37" y="307.75" font-size="12.4">2</text>
<text transform="translate(451.2,201.7) scale(1.2,1)" x="-3.54" y="0" font-size="12.4" font-style="italic">α</text>
<text x="454.57" y="203.6" font-size="9" stroke-width="0.22">1</text>
<text transform="translate(463.4,202.1) scale(1.12,1)" x="-3.5" y="0" font-size="12.4">=</text>
<text x="467.65" y="201.7" font-size="12.4">0</text>
<text x="473.95" y="201.7" font-size="12.4">.</text>
<text x="476.82" y="201.7" font-size="12.4">2</text>
<text x="483.45" y="201.7" font-size="12.4">,</text>
<text x="487.01" y="201.7" font-size="12.4" font-style="italic">γ</text>
<text transform="translate(496.95,202.1) scale(1.12,1)" x="-3.5" y="0" font-size="12.4">=</text>
<text x="501.05" y="201.7" font-size="12.4">0</text>
<path d="M355.7,214.4 H388.5" stroke="#000" stroke-width="0.75"/>
<path d="M356.4,210.4 L357.4,209.8 L359.1,213.7 L361.6,205.6 H387.3" stroke="#000" stroke-width="0.7" fill="none" stroke-linejoin="bevel"/>
<text x="362.64" y="214.4" font-size="9.6" stroke-width="0.22">&lt;</text>
<text x="368.75" y="213.7" font-size="8.4" font-style="italic" stroke-width="0.22">O</text>
<text x="375.13" y="214" font-size="5" stroke-width="0.22">2</text>
<text x="379.23" y="214.4" font-size="9.6" stroke-width="0.22">&gt;</text>
<text x="368.11" y="223.8" font-size="8.5" font-style="italic" stroke-width="0.22">T</text>
<text x="372.42" y="225" font-size="6.8" font-style="italic" stroke-width="0.22">c</text>
<path d="M367.6,363.5 H587" stroke="#000" stroke-opacity="0.6" stroke-width="1" fill="none"/>
<path d="M372,230.4 V365.6" stroke="#000" stroke-opacity="0.6" stroke-width="1" fill="none"/>
<path d="M382.54,363.5 v-1.5 M393.07,363.5 v-1.5 M403.61,363.5 v-1.5 M414.14,363.5 v-2.8 M424.68,363.5 v-1.5 M435.21,363.5 v-1.5 M445.75,363.5 v-1.5 M456.28,363.5 v-2.8 M466.82,363.5 v-1.5 M477.35,363.5 v-1.5 M487.89,363.5 v-1.5 M498.42,363.5 v-2.8 M508.96,363.5 v-1.5 M519.49,363.5 v-1.5 M530.03,363.5 v-1.5 M540.56,363.5 v-2.8 M551.1,363.5 v-1.5 M561.63,363.5 v-1.5 M572.17,363.5 v-1.5 M582.7,363.5 v-2.8 M372,355.37 h1.4 M372,347.24 h1.4 M372,339.11 h1.4 M372,330.98 h2.6 M372,322.85 h1.4 M372,314.72 h1.4 M372,306.59 h1.4 M372,298.46 h2.6 M372,290.33 h1.4 M372,282.2 h1.4 M372,274.07 h1.4 M372,265.94 h2.6 M372,257.81 h1.4 M372,249.68 h1.4 M372,241.55 h1.4 M372,233.42 h2.6" stroke="#000" stroke-opacity="0.6" stroke-width="0.9" fill="none"/>
<text transform="translate(369.6,335.28) scale(0.97,1)" font-size="12.4" text-anchor="end">2</text>
<text transform="translate(369.6,302.76) scale(0.97,1)" font-size="12.4" text-anchor="end">4</text>
<text transform="translate(369.6,270.24) scale(0.97,1)" font-size="12.4" text-anchor="end">6</text>
<text transform="translate(369.6,237.72) scale(0.97,1)" font-size="12.4" text-anchor="end">8</text>
<text transform="translate(414.14,377.4) scale(0.97,1)" font-size="12.4" text-anchor="middle">0.2</text>
<text transform="translate(456.28,377.4) scale(0.97,1)" font-size="12.4" text-anchor="middle">0.4</text>
<text transform="translate(498.42,377.4) scale(0.97,1)" font-size="12.4" text-anchor="middle">0.6</text>
<text transform="translate(540.56,377.4) scale(0.97,1)" font-size="12.4" text-anchor="middle">0.8</text>
<text transform="translate(582.7,377.4) scale(0.97,1)" font-size="12.4" text-anchor="middle">1.0</text>
<path d="M594.6,361 h9.3" stroke="#000" stroke-width="0.75"/>
<text x="596.61" y="360.1" font-size="8.2" font-style="italic" stroke-width="0.22">T</text>
<text x="595.21" y="370.1" font-size="8.2" font-style="italic" stroke-width="0.22">T</text>
<text x="599.62" y="371.3" font-size="6.6" font-style="italic" stroke-width="0.22">c</text>
<path d="M407.8,237.15 L409.26,237.17 L410.7,237.2 L412.14,237.22 L413.56,237.24 L414.98,237.26 L416.39,237.28 L417.78,237.3 L419.17,237.32 L420.55,237.34 L421.92,237.35 L423.28,237.37 L424.63,237.39 L425.97,237.41 L427.31,237.43 L428.63,237.45 L429.94,237.47 L431.25,237.49 L432.55,237.51 L433.83,237.53 L435.11,237.55 L436.38,237.57 L437.64,237.59 L438.9,237.62 L440.14,237.64 L441.38,237.66 L442.6,237.69 L443.82,237.72 L445.03,237.74 L446.23,237.77 L447.43,237.8 L448.61,237.83 L449.79,237.86 L450.95,237.89 L452.11,237.93 L453.27,237.96 L454.41,238 L455.54,238.03 L456.67,238.07 L457.79,238.11 L458.9,238.15 L460.01,238.2 L461.1,238.24 L462.19,238.29 L463.27,238.33 L464.34,238.38 L465.4,238.43 L466.46,238.48 L467.51,238.54 L468.55,238.59 L469.59,238.65 L470.61,238.71 L471.63,238.77 L472.64,238.83 L473.65,238.89 L474.64,238.95 L475.63,239.02 L476.62,239.09 L477.59,239.16 L478.56,239.23 L479.52,239.3 L480.47,239.38 L481.42,239.46 L482.36,239.53 L483.29,239.61 L484.22,239.7 L485.14,239.78 L486.05,239.87 L486.95,239.95 L487.85,240.04 L488.74,240.13 L489.63,240.23 L490.5,240.32 L491.38,240.42 L492.24,240.51 L493.1,240.61 L493.95,240.72 L494.8,240.82 L495.63,240.92 L496.47,241.03 L497.29,241.14 L498.11,241.25 L498.93,241.36 L499.73,241.48 L500.53,241.59 L501.33,241.71 L502.12,241.83 L502.9,241.95 L503.68,242.08 L504.45,242.2 L505.21,242.33 L505.97,242.46 L506.72,242.59 L507.47,242.72 L508.21,242.85 L508.94,242.99 L509.67,243.13 L510.39,243.26 L511.11,243.41 L511.82,243.55 L512.53,243.69 L513.23,243.84 L513.92,243.98 L514.61,244.13 L515.3,244.28 L515.97,244.44 L516.65,244.59 L517.31,244.75 L517.98,244.9 L518.63,245.06 L519.28,245.22 L519.93,245.38 L520.57,245.55 L521.21,245.71 L521.84,245.88 L522.46,246.05 L523.08,246.22 L523.69,246.39 L524.3,246.56 L524.91,246.74 L525.51,246.91 L526.1,247.09 L526.69,247.27 L527.28,247.45 L527.86,247.63 L528.43,247.82 L529,248 L529.57,248.19 L530.13,248.37 L530.68,248.56 L531.23,248.75 L531.78,248.95 L532.32,249.14 L532.86,249.33 L533.39,249.53 L533.92,249.73 L534.44,249.92 L534.96,250.12 L535.48,250.33 L535.99,250.53 L536.49,250.73 L536.99,250.94 L537.49,251.14 L537.98,251.35 L538.47,251.56 L538.95,251.77 L539.43,251.98 L539.91,252.19 L540.38,252.41 L540.85,252.62 L541.31,252.84 L541.77,253.06 L542.22,253.27 L542.68,253.49 L543.12,253.71 L543.56,253.94 L544,254.16 L544.44,254.38 L544.87,254.61 L545.3,254.83 L545.72,255.06 L546.14,255.29 L546.55,255.52 L546.97,255.75 L547.37,255.98 L547.78,256.21 L548.18,256.44 L548.57,256.68 L548.97,256.91 L549.36,257.15 L549.74,257.39 L550.13,257.63 L550.5,257.86 L551.25,258.35 L551.98,258.83 L552.7,259.32 L553.41,259.81 L554.1,260.3 L554.78,260.8 L555.45,261.3 L556.1,261.81 L556.74,262.31 L557.37,262.82 L557.99,263.34 L558.59,263.85 L559.18,264.37 L559.76,264.89 L560.33,265.42 L560.89,265.94 L561.44,266.47 L561.97,267 L562.5,267.54 L563.01,268.07 L563.52,268.61 L564.01,269.15 L564.49,269.69 L564.96,270.24 L565.43,270.78 L565.88,271.33 L566.32,271.88 L566.76,272.43 L567.18,272.98 L567.6,273.54 L568.01,274.09 L568.4,274.65 L568.79,275.21 L569.18,275.77 L569.55,276.33 L569.91,276.89 L570.27,277.46 L570.62,278.02 L570.96,278.59 L571.29,279.15 L571.61,279.72 L571.93,280.29 L572.24,280.86 L572.55,281.43 L572.84,282 L573.13,282.57 L573.41,283.15 L573.69,283.72 L573.96,284.29 L574.22,284.87 L574.48,285.44 L574.73,286.02 L574.97,286.59 L575.21,287.17 L575.44,287.75 L575.67,288.32 L575.89,288.9 L576.1,289.48 L576.31,290.05 L576.51,290.63 L576.71,291.21 L576.91,291.79 L577.1,292.36 L577.28,292.94 L577.46,293.52 L577.63,294.1 L577.8,294.67 L577.97,295.25 L578.13,295.83 L578.28,296.4 L578.44,296.98 L578.58,297.56 L578.73,298.13 L578.87,298.71 L579,299.28 L579.13,299.86 L579.26,300.43 L579.38,301 L579.51,301.58 L579.62,302.15 L579.74,302.72 L579.85,303.29 L579.95,303.86 L580.06,304.43 L580.16,305 L580.25,305.57 L580.35,306.14 L580.44,306.71 L580.53,307.27 L580.61,307.84 L580.7,308.4 L580.78,308.97 L580.86,309.53 L580.93,310.09 L581,310.66 L581.07,311.22 L581.14,311.78 L581.21,312.34 L581.27,312.89 L581.33,313.45 L581.39,314.01 L581.45,314.56 L581.5,315.11 L581.56,315.67 L581.61,316.22 L581.66,316.77 L581.71,317.32 L581.75,317.86 L581.8,318.41 L581.84,318.96 L581.88,319.5 L581.92,320.04 L581.96,320.58 L581.99,321.12 L582.03,321.66 L582.06,322.2 L582.09,322.74 L582.12,323.27 L582.15,323.81 L582.18,324.34 L582.21,324.87 L582.23,325.4 L582.26,325.93 L582.28,326.45 L582.31,326.98 L582.33,327.5 L582.35,328.02 L582.37,328.54 L582.39,329.06 L582.41,329.58 L582.42,330.1 L582.44,330.61 L582.45,331.12 L582.47,331.63 L582.48,332.14 L582.5,332.65 L582.51,333.15 L582.52,333.66 L582.53,334.16 L582.54,334.66 L582.55,335.16 L582.56,335.65 L582.57,336.15 L582.58,336.64 L582.59,337.13 L582.6,337.62 L582.61,338.11 L582.61,338.59 L582.62,339.08 L582.63,339.56 L582.63,340.04 L582.64,340.51 L582.64,340.99 L582.65,341.46 L582.65,341.93 L582.65,342.4 L582.66,342.87 L582.66,343.33 L582.67,343.79 L582.67,344.25 L582.67,344.71 L582.67,345.16 L582.68,345.62 L582.68,346.07 L582.68,346.51 L582.68,347.18 L582.69,347.84 L582.69,348.49 L582.69,349.14 L582.69,349.78 L582.69,350.42 L582.69,351.05 L582.7,351.67 L582.7,352.29 L582.7,352.9 L582.7,353.5 L582.7,354.09 L582.7,354.68 L582.7,355.25 L582.7,355.82 L582.7,356.38 L582.7,356.93 L582.7,357.47 L582.7,358 L582.7,358.52 L582.7,359.03 L582.7,359.53 L582.7,360.01 L582.7,360.48 L582.7,360.93 L582.7,361.51 L582.7,362.06 L582.7,362.56 L582.7,363.01 L582.7,363.5" stroke="#5e81b5" stroke-width="1.45" fill="none"/>
<path d="M403.8,251.2 L405.29,251.16 L406.77,251.13 L408.24,251.11 L409.69,251.09 L411.14,251.07 L412.58,251.06 L414.01,251.05 L415.43,251.04 L416.84,251.04 L418.24,251.04 L419.63,251.04 L421.02,251.05 L422.39,251.06 L423.75,251.07 L425.11,251.08 L426.45,251.09 L427.79,251.11 L429.11,251.13 L430.43,251.15 L431.74,251.17 L433.04,251.2 L434.33,251.23 L435.61,251.25 L436.88,251.28 L438.14,251.32 L439.4,251.35 L440.65,251.38 L441.88,251.42 L443.11,251.46 L444.33,251.5 L445.54,251.54 L446.75,251.58 L447.94,251.62 L449.13,251.66 L450.3,251.71 L451.47,251.76 L452.64,251.8 L453.79,251.85 L454.93,251.9 L456.07,251.95 L457.2,252.01 L458.32,252.06 L459.43,252.12 L460.54,252.17 L461.63,252.23 L462.72,252.29 L463.8,252.34 L464.88,252.4 L465.94,252.47 L467,252.53 L468.05,252.59 L469.09,252.66 L470.13,252.72 L471.15,252.79 L472.17,252.86 L473.18,252.92 L474.19,252.99 L475.19,253.06 L476.18,253.14 L477.16,253.21 L478.13,253.28 L479.1,253.36 L480.06,253.44 L481.02,253.51 L481.96,253.59 L482.9,253.67 L483.84,253.75 L484.76,253.83 L485.68,253.92 L486.59,254 L487.5,254.09 L488.4,254.17 L489.29,254.26 L490.17,254.35 L491.05,254.44 L491.92,254.53 L492.79,254.62 L493.64,254.72 L494.5,254.81 L495.34,254.91 L496.18,255 L497.01,255.1 L497.84,255.2 L498.65,255.3 L499.47,255.4 L500.27,255.51 L501.07,255.61 L501.87,255.72 L502.66,255.82 L503.44,255.93 L504.21,256.04 L504.98,256.15 L505.75,256.26 L506.5,256.38 L507.26,256.49 L508,256.61 L508.74,256.72 L509.47,256.84 L510.2,256.96 L510.92,257.08 L511.64,257.2 L512.35,257.32 L513.06,257.45 L513.76,257.57 L514.45,257.7 L515.14,257.83 L515.82,257.96 L516.5,258.09 L517.17,258.22 L517.83,258.35 L518.49,258.49 L519.15,258.62 L519.8,258.76 L520.44,258.9 L521.08,259.03 L521.72,259.17 L522.35,259.32 L522.97,259.46 L523.59,259.6 L524.2,259.75 L524.81,259.89 L525.41,260.04 L526.01,260.19 L526.6,260.34 L527.19,260.49 L527.77,260.64 L528.35,260.8 L528.92,260.95 L529.49,261.11 L530.06,261.27 L530.62,261.42 L531.17,261.58 L531.72,261.74 L532.26,261.91 L532.8,262.07 L533.34,262.23 L533.87,262.4 L534.4,262.56 L534.92,262.73 L535.44,262.9 L535.95,263.07 L536.46,263.24 L536.96,263.41 L537.46,263.59 L537.95,263.76 L538.44,263.93 L538.93,264.11 L539.41,264.29 L539.89,264.47 L540.36,264.65 L540.83,264.83 L541.3,265.01 L541.76,265.19 L542.22,265.37 L542.67,265.56 L543.12,265.75 L543.56,265.93 L544,266.12 L544.44,266.31 L544.87,266.5 L545.3,266.69 L545.73,266.88 L546.15,267.07 L546.57,267.27 L546.98,267.46 L547.39,267.66 L547.79,267.85 L548.2,268.05 L548.99,268.45 L549.77,268.85 L550.53,269.25 L551.28,269.66 L552.02,270.07 L552.74,270.49 L553.45,270.91 L554.14,271.33 L554.82,271.75 L555.49,272.18 L556.15,272.61 L556.79,273.05 L557.42,273.48 L558.04,273.92 L558.65,274.37 L559.24,274.81 L559.82,275.26 L560.39,275.71 L560.95,276.16 L561.5,276.62 L562.04,277.08 L562.56,277.54 L563.08,278 L563.58,278.46 L564.07,278.93 L564.56,279.4 L565.03,279.87 L565.5,280.34 L565.95,280.82 L566.39,281.3 L566.83,281.78 L567.25,282.26 L567.67,282.74 L568.08,283.22 L568.48,283.71 L568.87,284.2 L569.25,284.68 L569.62,285.17 L569.98,285.67 L570.34,286.16 L570.69,286.65 L571.03,287.15 L571.36,287.65 L571.69,288.14 L572,288.64 L572.31,289.14 L572.62,289.64 L572.91,290.15 L573.2,290.65 L573.48,291.15 L573.76,291.66 L574.03,292.16 L574.29,292.67 L574.54,293.17 L574.79,293.68 L575.04,294.19 L575.27,294.7 L575.51,295.21 L575.73,295.72 L575.95,296.23 L576.16,296.74 L576.37,297.25 L576.58,297.76 L576.77,298.27 L576.97,298.78 L577.16,299.29 L577.34,299.81 L577.52,300.32 L577.69,300.83 L577.86,301.34 L578.02,301.86 L578.18,302.37 L578.34,302.88 L578.49,303.39 L578.64,303.91 L578.78,304.42 L578.92,304.93 L579.05,305.44 L579.18,305.95 L579.31,306.47 L579.43,306.98 L579.55,307.49 L579.67,308 L579.78,308.51 L579.89,309.02 L580,309.53 L580.1,310.04 L580.2,310.55 L580.3,311.06 L580.39,311.56 L580.48,312.07 L580.57,312.58 L580.65,313.08 L580.73,313.59 L580.81,314.1 L580.89,314.6 L580.97,315.1 L581.04,315.61 L581.11,316.11 L581.17,316.61 L581.24,317.11 L581.3,317.61 L581.36,318.11 L581.42,318.61 L581.48,319.11 L581.53,319.61 L581.58,320.1 L581.63,320.6 L581.68,321.09 L581.73,321.59 L581.77,322.08 L581.82,322.57 L581.86,323.06 L581.9,323.55 L581.94,324.04 L581.98,324.53 L582.01,325.01 L582.05,325.5 L582.08,325.98 L582.11,326.47 L582.14,326.95 L582.17,327.43 L582.2,327.91 L582.22,328.39 L582.25,328.87 L582.27,329.34 L582.3,329.82 L582.32,330.29 L582.34,330.76 L582.36,331.24 L582.38,331.71 L582.4,332.17 L582.42,332.64 L582.43,333.11 L582.45,333.57 L582.46,334.04 L582.48,334.5 L582.49,334.96 L582.51,335.42 L582.52,335.88 L582.53,336.33 L582.54,336.79 L582.55,337.24 L582.56,337.69 L582.57,338.14 L582.58,338.59 L582.59,339.04 L582.6,339.71 L582.61,340.37 L582.62,341.03 L582.63,341.69 L582.64,342.34 L582.64,342.99 L582.65,343.63 L582.66,344.28 L582.66,344.91 L582.67,345.54 L582.67,346.17 L582.68,346.79 L582.68,347.41 L582.68,348.03 L582.68,348.64 L582.69,349.24 L582.69,349.84 L582.69,350.43 L582.69,351.02 L582.69,351.6 L582.69,352.18 L582.7,352.75 L582.7,353.32 L582.7,353.88 L582.7,354.43 L582.7,354.97 L582.7,355.51 L582.7,356.04 L582.7,356.57 L582.7,357.09 L582.7,357.59 L582.7,358.09 L582.7,358.58 L582.7,359.06 L582.7,359.53 L582.7,359.99 L582.7,360.44 L582.7,361.02 L582.7,361.57 L582.7,362.09 L582.7,362.58 L582.7,363.11 L582.7,363.5" stroke="#e19c24" stroke-width="1.45" fill="none"/>
<path d="M390.3,297.22 L391.9,297.19 L393.49,297.16 L395.07,297.14 L396.64,297.13 L398.2,297.12 L399.74,297.11 L401.28,297.11 L402.81,297.12 L404.33,297.13 L405.83,297.14 L407.33,297.16 L408.82,297.18 L410.29,297.2 L411.76,297.23 L413.21,297.26 L414.66,297.29 L416.1,297.32 L417.52,297.35 L418.94,297.39 L420.35,297.43 L421.74,297.47 L423.13,297.51 L424.51,297.55 L425.88,297.6 L427.24,297.64 L428.59,297.68 L429.93,297.73 L431.26,297.78 L432.58,297.82 L433.89,297.87 L435.19,297.92 L436.49,297.97 L437.77,298.02 L439.05,298.07 L440.31,298.11 L441.57,298.16 L442.82,298.21 L444.06,298.26 L445.29,298.31 L446.51,298.36 L447.73,298.41 L448.93,298.46 L450.13,298.51 L451.32,298.56 L452.5,298.61 L453.67,298.66 L454.83,298.7 L455.98,298.75 L457.13,298.8 L458.27,298.85 L459.4,298.9 L460.52,298.94 L461.63,298.99 L462.74,299.04 L463.83,299.09 L464.92,299.13 L466,299.18 L467.07,299.23 L468.14,299.27 L469.2,299.32 L470.24,299.37 L471.29,299.41 L472.32,299.46 L473.34,299.51 L474.36,299.55 L475.37,299.6 L476.38,299.65 L477.37,299.69 L478.36,299.74 L479.34,299.79 L480.31,299.83 L481.28,299.88 L482.24,299.93 L483.19,299.97 L484.13,300.02 L485.07,300.07 L486,300.12 L486.92,300.16 L487.84,300.21 L488.75,300.26 L489.65,300.31 L490.54,300.36 L491.43,300.41 L492.31,300.46 L493.19,300.51 L494.05,300.56 L494.91,300.61 L495.77,300.66 L496.62,300.71 L497.46,300.76 L498.29,300.82 L499.12,300.87 L499.94,300.92 L500.75,300.98 L501.56,301.03 L502.36,301.09 L503.16,301.15 L503.95,301.2 L504.73,301.26 L505.51,301.32 L506.28,301.38 L507.04,301.44 L507.8,301.5 L508.55,301.56 L509.3,301.62 L510.04,301.68 L510.77,301.74 L511.5,301.81 L512.22,301.87 L512.94,301.94 L513.65,302 L514.35,302.07 L515.05,302.14 L515.75,302.2 L516.43,302.27 L517.11,302.34 L517.79,302.41 L518.46,302.49 L519.13,302.56 L519.79,302.63 L520.44,302.71 L521.09,302.78 L521.73,302.86 L522.37,302.93 L523,303.01 L523.63,303.09 L524.25,303.17 L524.87,303.25 L525.48,303.33 L526.08,303.41 L526.69,303.49 L527.28,303.58 L527.87,303.66 L528.46,303.75 L529.04,303.83 L529.61,303.92 L530.19,304.01 L530.75,304.1 L531.31,304.19 L531.87,304.28 L532.42,304.37 L532.97,304.46 L533.51,304.55 L534.04,304.65 L534.58,304.74 L535.1,304.84 L535.63,304.94 L536.15,305.03 L536.66,305.13 L537.17,305.23 L537.67,305.33 L538.17,305.43 L538.67,305.53 L539.16,305.64 L539.65,305.74 L540.13,305.85 L540.61,305.95 L541.08,306.06 L541.55,306.16 L542.02,306.27 L542.48,306.38 L542.94,306.49 L543.39,306.6 L543.84,306.71 L544.28,306.82 L544.72,306.94 L545.16,307.05 L545.59,307.17 L546.45,307.4 L547.28,307.63 L548.1,307.87 L548.91,308.11 L549.7,308.35 L550.48,308.6 L551.24,308.85 L551.99,309.1 L552.72,309.35 L553.44,309.61 L554.14,309.87 L554.84,310.14 L555.51,310.4 L556.18,310.67 L556.83,310.94 L557.47,311.21 L558.09,311.49 L558.71,311.76 L559.31,312.04 L559.9,312.33 L560.48,312.61 L561.04,312.9 L561.6,313.18 L562.14,313.47 L562.67,313.76 L563.19,314.06 L563.7,314.35 L564.2,314.65 L564.69,314.95 L565.16,315.25 L565.63,315.55 L566.09,315.86 L566.54,316.16 L566.97,316.47 L567.4,316.78 L567.82,317.08 L568.23,317.4 L568.63,317.71 L569.02,318.02 L569.41,318.33 L569.78,318.65 L570.15,318.97 L570.51,319.28 L570.85,319.6 L571.2,319.92 L571.53,320.24 L571.86,320.56 L572.17,320.88 L572.48,321.2 L572.94,321.69 L573.37,322.17 L573.79,322.66 L574.2,323.15 L574.59,323.64 L574.96,324.12 L575.32,324.61 L575.67,325.11 L576.01,325.6 L576.33,326.09 L576.64,326.58 L576.93,327.07 L577.22,327.56 L577.49,328.05 L577.76,328.55 L578.01,329.04 L578.25,329.53 L578.48,330.02 L578.7,330.51 L578.92,330.99 L579.12,331.48 L579.31,331.97 L579.5,332.45 L579.68,332.94 L579.85,333.42 L580.01,333.91 L580.16,334.39 L580.31,334.87 L580.45,335.34 L580.59,335.82 L580.71,336.29 L580.83,336.77 L580.95,337.24 L581.06,337.71 L581.16,338.18 L581.26,338.64 L581.35,339.11 L581.44,339.57 L581.53,340.03 L581.61,340.48 L581.68,340.94 L581.75,341.39 L581.82,341.84 L581.88,342.29 L581.94,342.74 L582.01,343.33 L582.08,343.91 L582.14,344.49 L582.2,345.07 L582.25,345.64 L582.3,346.21 L582.35,346.77 L582.39,347.32 L582.42,347.87 L582.45,348.42 L582.48,348.96 L582.51,349.49 L582.53,350.02 L582.56,350.54 L582.58,351.06 L582.59,351.57 L582.61,352.07 L582.62,352.57 L582.63,353.06 L582.64,353.54 L582.65,354.02 L582.66,354.49 L582.67,354.95 L582.67,355.41 L582.68,355.86 L582.68,356.41 L582.69,356.94 L582.69,357.47 L582.69,357.98 L582.69,358.47 L582.7,358.96 L582.7,359.43 L582.7,359.88 L582.7,360.4 L582.7,360.9 L582.7,361.37 L582.7,361.88 L582.7,362.34 L582.7,362.82 L582.7,363.28 L582.7,363.5" stroke="#8fb032" stroke-width="1.45" fill="none"/>
<path d="M615.8,261.9 h14.1" stroke="#5e81b5" stroke-width="1.35"/>
<path d="M615.8,282.6 h14.1" stroke="#e19c24" stroke-width="1.35"/>
<path d="M615.8,303 h14.1" stroke="#8fb032" stroke-width="1.35"/>
<text x="636.91" y="266.65" font-size="12.4" font-style="italic">γ</text>
<text x="642.89" y="268.55" font-size="8" stroke-width="0.22">1</text>
<text transform="translate(651.55,267.95) scale(1.12,1)" x="-3.5" y="0" font-size="12.4">=</text>
<text transform="translate(659.45,267.95) scale(1.12,1)" x="-3.5" y="0" font-size="12.4">−</text>
<text x="663.8" y="266.65" font-size="12.4">0</text>
<text x="669.85" y="266.65" font-size="12.4">.</text>
<text x="673.2" y="266.65" font-size="12.4">0</text>
<text x="679.52" y="266.65" font-size="12.4">2</text>
<text x="636.91" y="287.35" font-size="12.4" font-style="italic">γ</text>
<text x="642.89" y="289.25" font-size="8" stroke-width="0.22">1</text>
<text transform="translate(651.55,288.65) scale(1.12,1)" x="-3.5" y="0" font-size="12.4">=</text>
<text x="655.65" y="287.35" font-size="12.4">0</text>
<text x="636.91" y="307.75" font-size="12.4" font-style="italic">γ</text>
<text x="642.89" y="309.65" font-size="8" stroke-width="0.22">1</text>
<text transform="translate(651.55,309.05) scale(1.12,1)" x="-3.5" y="0" font-size="12.4">=</text>
<text x="655.65" y="307.75" font-size="12.4">0</text>
<text x="661.7" y="307.75" font-size="12.4">.</text>
<text x="665.05" y="307.75" font-size="12.4">0</text>
<text x="671.37" y="307.75" font-size="12.4">2</text>
</svg>
</body></html>
